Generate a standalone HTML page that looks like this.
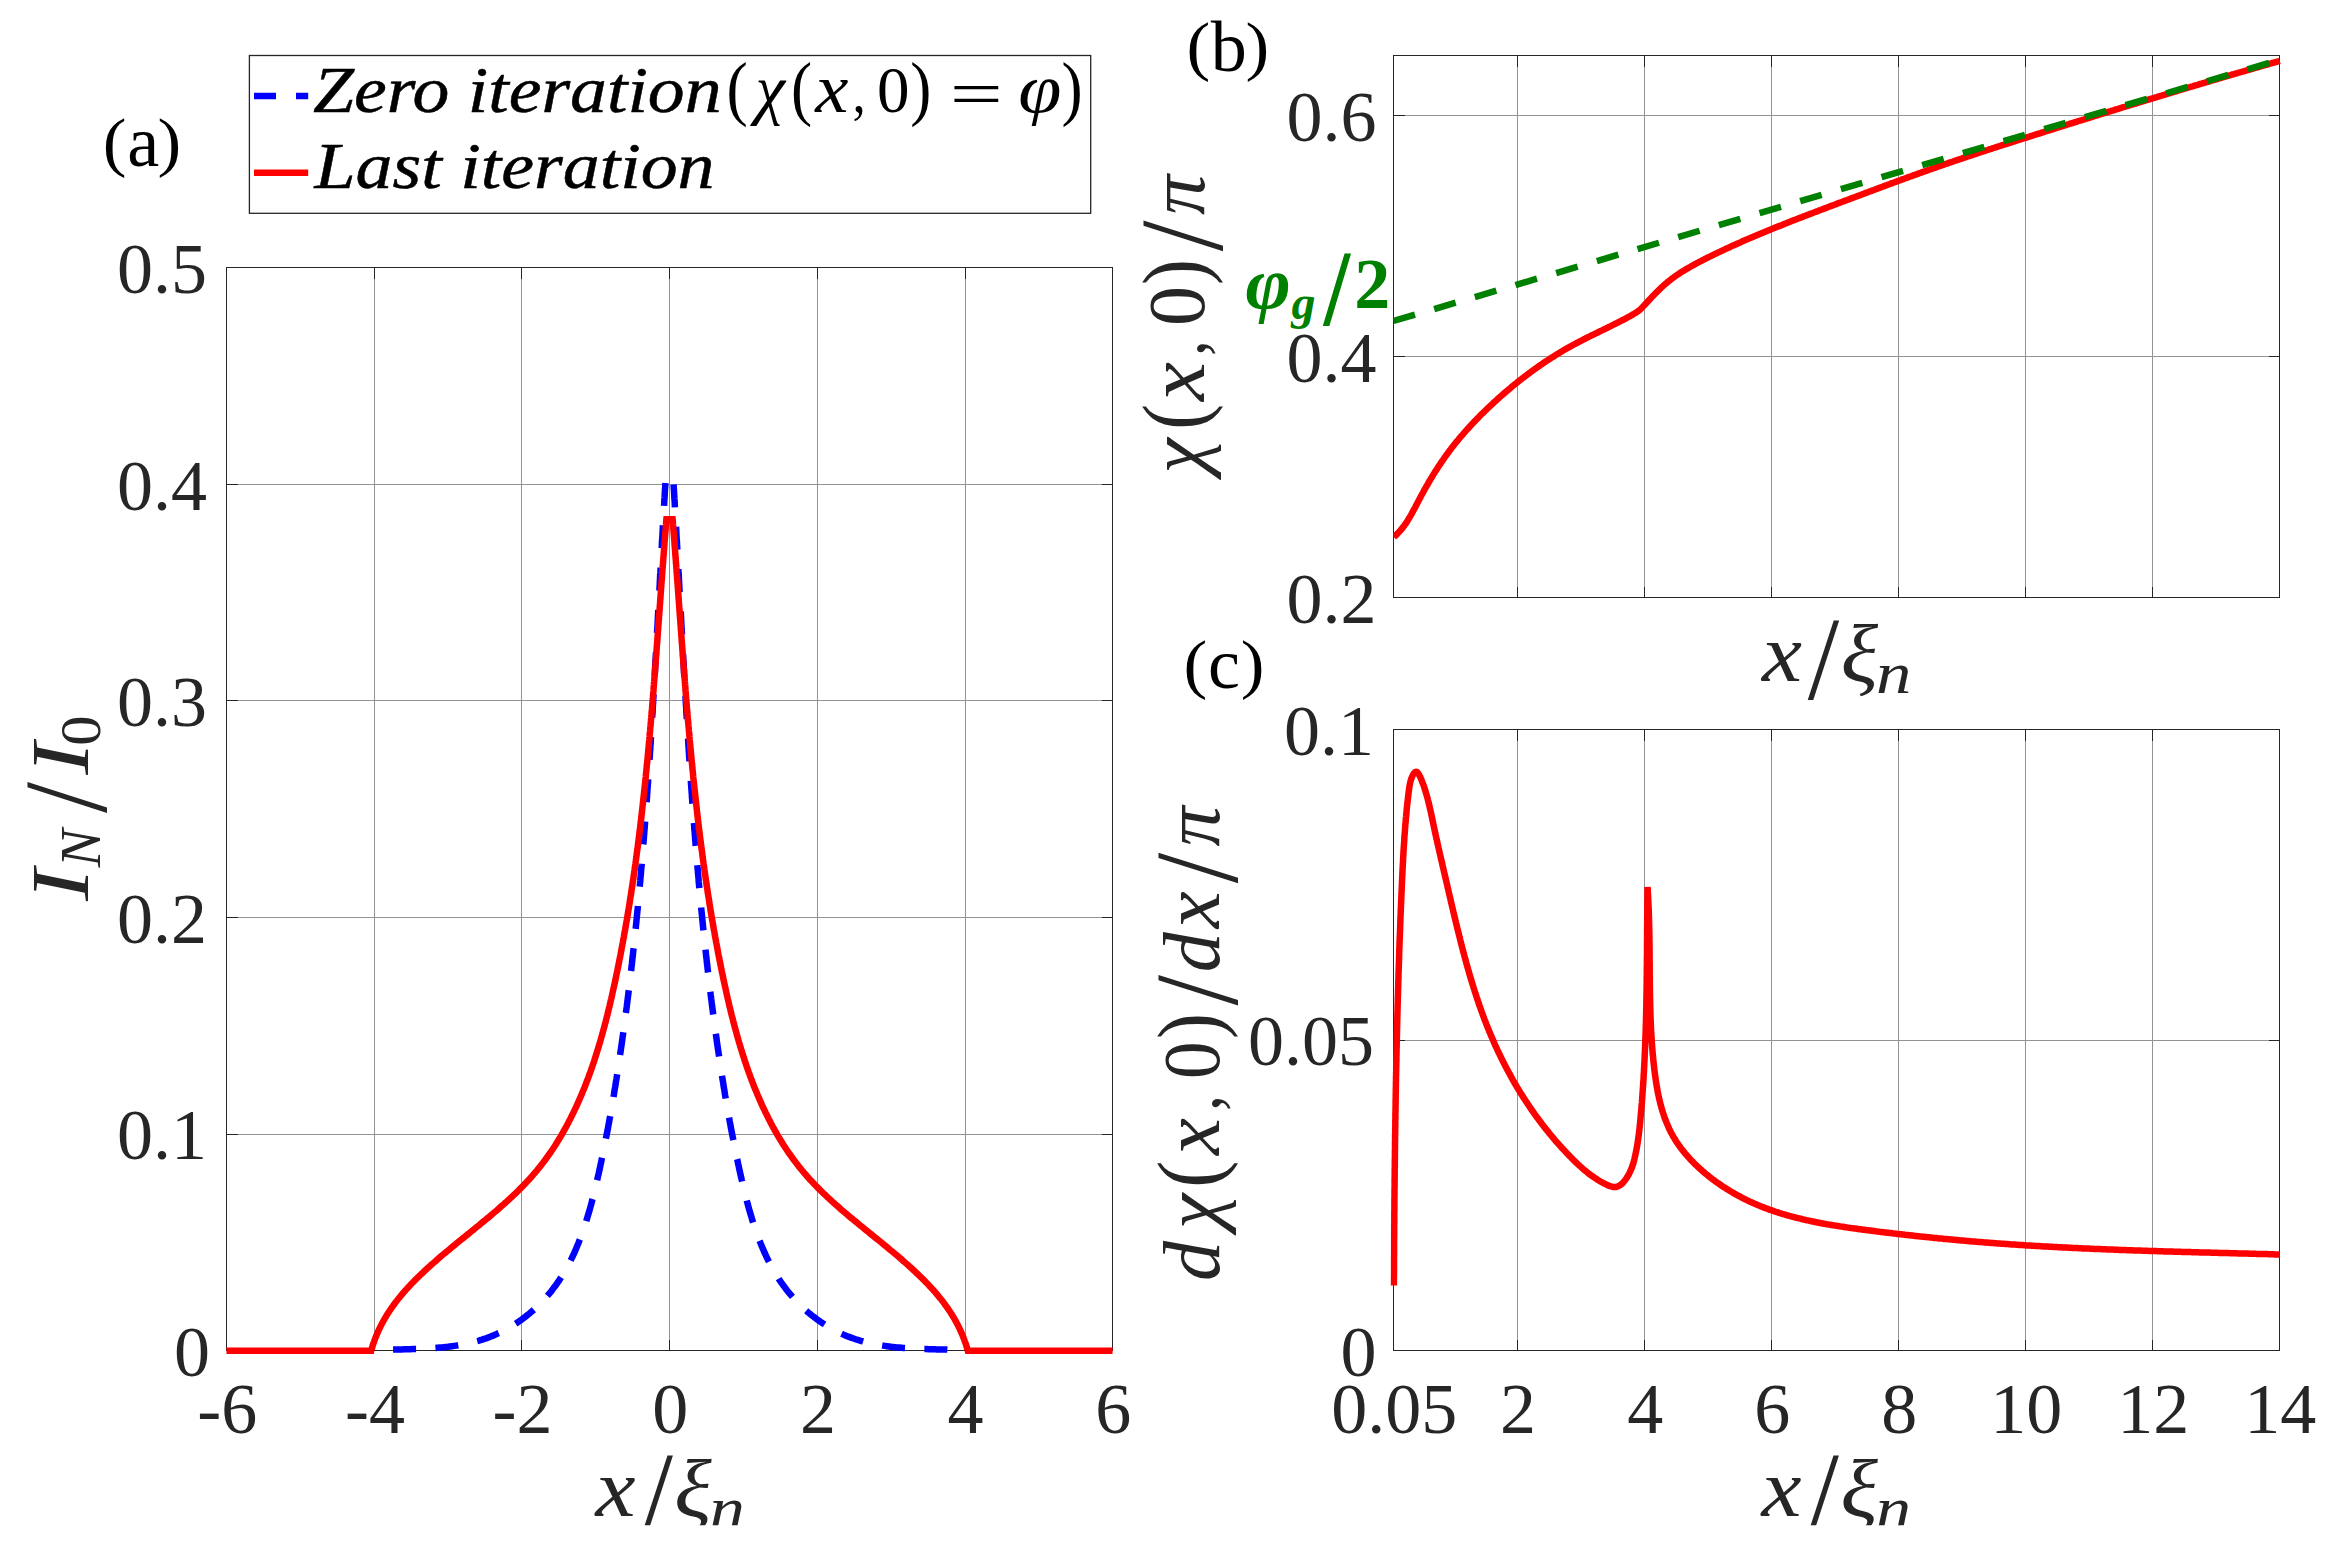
<!DOCTYPE html>
<html><head><meta charset="utf-8"><title>figure</title>
<style>
html,body{margin:0;padding:0;background:#fff;}
svg{display:block}
.g{stroke:#939393;stroke-width:1;fill:none;shape-rendering:crispEdges}
.bx{stroke:#262626;stroke-width:1;fill:none;shape-rendering:crispEdges}
.tk{stroke:#262626;stroke-width:1;fill:none;shape-rendering:crispEdges}
.c{fill:none;stroke-width:6.5;stroke-linejoin:miter;stroke-linecap:butt}
text{font-family:"Liberation Serif","DejaVu Serif",serif;}
.tl{font-size:72px;fill:#262626}
.pl{font-size:70px;fill:#000}
.lb{font-size:79px;fill:#262626;font-style:italic}
.lg{font-size:66px;fill:#000;font-style:italic;stroke:#000;stroke-width:0.5px}
.mt{}
</style></head><body>
<svg width="2327" height="1554" viewBox="0 0 2327 1554">
<defs>
<clipPath id="ca"><rect x="223.3" y="267.5" width="892.4" height="1086.6"/></clipPath>
<clipPath id="cb"><rect x="1393.5" y="55.5" width="889.0" height="542.0"/></clipPath>
<clipPath id="cc"><rect x="1390.5" y="729.5" width="890.0" height="621.0"/></clipPath>
<clipPath id="cfig"><rect x="0" y="0" width="2327" height="1525.3"/></clipPath>
</defs>
<rect width="2327" height="1554" fill="#fff"/>

<g id="panel-a">
<line x1="374.5" y1="267.5" x2="374.5" y2="1350.5" class="g"/>
<line x1="521.5" y1="267.5" x2="521.5" y2="1350.5" class="g"/>
<line x1="669.5" y1="267.5" x2="669.5" y2="1350.5" class="g"/>
<line x1="817.5" y1="267.5" x2="817.5" y2="1350.5" class="g"/>
<line x1="965.5" y1="267.5" x2="965.5" y2="1350.5" class="g"/>
<line x1="226.5" y1="1134.5" x2="1112.5" y2="1134.5" class="g"/>
<line x1="226.5" y1="917.5" x2="1112.5" y2="917.5" class="g"/>
<line x1="226.5" y1="700.5" x2="1112.5" y2="700.5" class="g"/>
<line x1="226.5" y1="484.5" x2="1112.5" y2="484.5" class="g"/>
<rect x="226.5" y="267.5" width="886.0" height="1083.0" class="bx"/>
<path d="M374.5 1350.5v-11M374.5 267.5v11M521.5 1350.5v-11M521.5 267.5v11M669.5 1350.5v-11M669.5 267.5v11M817.5 1350.5v-11M817.5 267.5v11M965.5 1350.5v-11M965.5 267.5v11M226.5 1134.5h11M1112.5 1134.5h-11M226.5 917.5h11M1112.5 917.5h-11M226.5 700.5h11M1112.5 700.5h-11M226.5 484.5h11M1112.5 484.5h-11" class="tk"/>
<g>
<path class="c" stroke="#0000ff" stroke-dasharray="23 19.4" stroke-dashoffset="0" d="M665.4 483.0 L665.3 485.0 L665.2 487.1 L665.0 489.1 L664.9 491.1 L664.8 493.2 L664.7 495.2 L664.6 497.2 L664.4 499.3 L664.3 501.3 L664.2 503.3 L664.1 505.3 L664.0 507.4 L663.9 509.4 L663.7 511.4 L663.6 513.5 L663.5 515.5 L663.4 517.5 L663.3 519.6 L663.2 521.6 L663.1 523.7 L662.9 525.7 L662.8 527.7 L662.7 529.8 L662.6 531.8 L662.5 533.8 L662.4 535.9 L662.3 537.9 L662.1 539.9 L662.0 542.0 L661.9 544.0 L661.8 546.0 L661.7 548.1 L661.6 550.1 L661.5 552.2 L661.4 554.2 L661.2 556.2 L661.1 558.3 L661.0 560.3 L660.9 562.3 L660.8 564.4 L660.7 566.4 L660.6 568.5 L660.5 570.5 L660.4 572.5 L660.2 574.6 L660.1 576.6 L660.0 578.7 L659.9 580.7 L659.8 582.7 L659.7 584.8 L659.6 586.8 L659.5 588.9 L659.4 590.9 L659.2 592.9 L659.1 595.0 L659.0 597.0 L658.9 599.1 L658.8 601.1 L658.7 603.1 L658.6 605.2 L658.5 607.2 L658.4 609.3 L658.2 611.3 L658.1 613.3 L658.0 615.4 L657.9 617.4 L657.8 619.5 L657.7 621.5 L657.6 623.5 L657.5 625.6 L657.4 627.6 L657.2 629.7 L657.1 631.7 L657.0 633.8 L656.9 635.8 L656.8 637.8 L656.7 639.9 L656.6 641.9 L656.5 644.0 L656.3 646.0 L656.2 648.1 L656.1 650.1 L656.0 652.1 L655.9 654.2 L655.8 656.2 L655.7 658.3 L655.5 660.3 L655.4 662.4 L655.3 664.4 L655.2 666.4 L655.1 668.5 L655.0 670.5 L654.9 672.6 L654.7 674.6 L654.6 676.7 L654.5 678.7 L654.4 680.7 L654.3 682.8 L654.1 684.8 L654.0 686.9 L653.9 688.9 L653.8 691.0 L653.7 693.0 L653.6 695.0 L653.4 697.1 L653.3 699.1 L653.2 701.2 L653.1 703.2 L652.9 705.3 L652.8 707.3 L652.7 709.4 L652.6 711.4 L652.5 713.4 L652.3 715.5 L652.2 717.5 L652.1 719.6 L652.0 721.6 L651.8 723.7 L651.7 725.7 L651.6 727.7 L651.5 729.8 L651.3 731.8 L651.2 733.9 L651.1 735.9 L650.9 738.0 L650.8 740.0 L650.7 742.0 L650.6 744.1 L650.4 746.1 L650.3 748.2 L650.2 750.2 L650.0 752.3 L649.9 754.3 L649.8 756.3 L649.6 758.4 L649.5 760.4 L649.4 762.5 L649.2 764.5 L649.1 766.6 L648.9 768.6 L648.8 770.6 L648.7 772.7 L648.5 774.7 L648.4 776.8 L648.2 778.8 L648.1 780.8 L648.0 782.9 L647.8 784.9 L647.7 787.0 L647.5 789.0 L647.4 791.1 L647.2 793.1 L647.1 795.1 L647.0 797.2 L646.8 799.2 L646.7 801.3 L646.5 803.3 L646.4 805.3 L646.2 807.4 L646.1 809.4 L645.9 811.5 L645.8 813.5 L645.6 815.5 L645.4 817.6 L645.3 819.6 L645.1 821.7 L645.0 823.7 L644.8 825.7 L644.7 827.8 L644.5 829.8 L644.3 831.9 L644.2 833.9 L644.0 835.9 L643.9 838.0 L643.7 840.0 L643.5 842.0 L643.4 844.1 L643.2 846.1 L643.0 848.2 L642.9 850.2 L642.7 852.2 L642.5 854.3 L642.4 856.3 L642.2 858.3 L642.0 860.4 L641.8 862.4 L641.7 864.5 L641.5 866.5 L641.3 868.5 L641.1 870.6 L641.0 872.6 L640.8 874.6 L640.6 876.7 L640.4 878.7 L640.3 880.7 L640.1 882.8 L639.9 884.8 L639.7 886.8 L639.5 888.9 L639.3 890.9 L639.1 892.9 L639.0 895.0 L638.8 897.0 L638.6 899.0 L638.4 901.1 L638.2 903.1 L638.0 905.1 L637.8 907.2 L637.6 909.2 L637.4 911.2 L637.2 913.3 L637.0 915.3 L636.8 917.3 L636.6 919.3 L636.4 921.4 L636.2 923.4 L636.0 925.4 L635.8 927.5 L635.6 929.5 L635.4 931.5 L635.2 933.5 L634.9 935.6 L634.7 937.6 L634.5 939.6 L634.3 941.7 L634.1 943.7 L633.9 945.7 L633.7 947.7 L633.4 949.8 L633.2 951.8 L633.0 953.8 L632.8 955.8 L632.5 957.9 L632.3 959.9 L632.1 961.9 L631.9 963.9 L631.6 966.0 L631.4 968.0 L631.2 970.0 L630.9 972.0 L630.7 974.1 L630.5 976.1 L630.2 978.1 L630.0 980.1 L629.7 982.1 L629.5 984.2 L629.3 986.2 L629.0 988.2 L628.8 990.2 L628.5 992.2 L628.3 994.3 L628.0 996.3 L627.8 998.3 L627.5 1000.3 L627.3 1002.3 L627.0 1004.4 L626.8 1006.4 L626.5 1008.4 L626.2 1010.4 L626.0 1012.4 L625.7 1014.4 L625.4 1016.4 L625.2 1018.5 L624.9 1020.5 L624.6 1022.5 L624.4 1024.5 L624.1 1026.5 L623.8 1028.5 L623.6 1030.5 L623.3 1032.6 L623.0 1034.6 L622.7 1036.6 L622.4 1038.6 L622.2 1040.6 L621.9 1042.6 L621.6 1044.6 L621.3 1046.6 L621.0 1048.6 L620.7 1050.7 L620.4 1052.7 L620.1 1054.7 L619.8 1056.7 L619.5 1058.7 L619.2 1060.7 L618.9 1062.7 L618.6 1064.7 L618.3 1066.7 L618.0 1068.7 L617.7 1070.7 L617.4 1072.7 L617.1 1074.7 L616.8 1076.7 L616.5 1078.8 L616.1 1080.8 L615.8 1082.8 L615.5 1084.8 L615.2 1086.8 L614.8 1088.8 L614.5 1090.8 L614.2 1092.8 L613.9 1094.8 L613.5 1096.8 L613.2 1098.8 L612.8 1100.8 L612.5 1102.8 L612.1 1104.9 L611.8 1106.9 L611.4 1108.9 L611.1 1110.9 L610.7 1112.9 L610.4 1114.9 L610.0 1116.9 L609.6 1118.9 L609.3 1120.9 L608.9 1123.0 L608.5 1125.0 L608.2 1127.0 L607.8 1129.0 L607.4 1131.0 L607.0 1133.0 L606.6 1135.0 L606.2 1137.1 L605.8 1139.1 L605.4 1141.1 L605.0 1143.1 L604.6 1145.1 L604.2 1147.2 L603.8 1149.2 L603.4 1151.2 L603.0 1153.2 L602.6 1155.3 L602.2 1157.3 L601.7 1159.3 L601.3 1161.3 L600.9 1163.4 L600.4 1165.4 L600.0 1167.4 L599.6 1169.5 L599.1 1171.5 L598.7 1173.5 L598.2 1175.6 L597.7 1177.6 L597.3 1179.6 L596.8 1181.7 L596.3 1183.7 L595.9 1185.7 L595.4 1187.8 L594.9 1189.8 L594.4 1191.8 L593.9 1193.9 L593.4 1195.9 L592.9 1197.9 L592.3 1199.9 L591.8 1202.0 L591.3 1204.0 L590.7 1206.0 L590.2 1208.0 L589.6 1210.0 L589.0 1212.0 L588.4 1214.0 L587.8 1216.0 L587.2 1218.0 L586.6 1220.0 L586.0 1221.9 L585.4 1223.9 L584.7 1225.9 L584.1 1227.8 L583.4 1229.8 L582.7 1231.7 L582.0 1233.7 L581.3 1235.6 L580.6 1237.5 L579.9 1239.4 L579.1 1241.3 L578.4 1243.2 L577.6 1245.1 L576.8 1247.0 L576.0 1248.9 L575.2 1250.8 L574.4 1252.6 L573.5 1254.5 L572.7 1256.3 L571.8 1258.1 L570.9 1259.9 L570.0 1261.7 L569.1 1263.5 L568.1 1265.3 L567.2 1267.1 L566.2 1268.8 L565.2 1270.6 L564.2 1272.3 L563.2 1274.0 L562.1 1275.8 L561.0 1277.4 L560.0 1279.1 L558.9 1280.8 L557.7 1282.4 L556.6 1284.1 L555.4 1285.7 L554.2 1287.3 L553.0 1288.9 L551.8 1290.5 L550.6 1292.1 L549.3 1293.6 L548.0 1295.1 L546.7 1296.6 L545.4 1298.1 L544.0 1299.6 L542.7 1301.1 L541.3 1302.5 L539.9 1304.0 L538.5 1305.4 L537.0 1306.8 L535.6 1308.1 L534.1 1309.5 L532.6 1310.8 L531.1 1312.1 L529.5 1313.4 L528.0 1314.7 L526.4 1315.9 L524.8 1317.2 L523.2 1318.4 L521.6 1319.6 L520.0 1320.7 L518.3 1321.9 L516.7 1323.0 L515.0 1324.1 L513.3 1325.2 L511.6 1326.2 L509.9 1327.2 L508.1 1328.2 L506.3 1329.2 L504.6 1330.2 L502.8 1331.1 L501.0 1332.0 L499.2 1332.9 L497.3 1333.7 L495.5 1334.6 L493.6 1335.4 L491.8 1336.1 L489.9 1336.9 L488.0 1337.6 L486.1 1338.3 L484.1 1338.9 L482.2 1339.6 L480.3 1340.2 L478.3 1340.8 L476.3 1341.3 L474.4 1341.9 L472.4 1342.4 L470.4 1342.8 L468.4 1343.3 L466.3 1343.7 L464.3 1344.2 L462.3 1344.6 L460.2 1344.9 L458.2 1345.3 L456.2 1345.6 L454.1 1345.9 L452.0 1346.2 L450.0 1346.5 L447.9 1346.8 L445.8 1347.0 L443.7 1347.2 L441.7 1347.4 L439.6 1347.6 L437.5 1347.8 L435.4 1348.0 L433.3 1348.1 L431.2 1348.3 L429.1 1348.4 L427.0 1348.5 L424.9 1348.6 L422.8 1348.7 L420.7 1348.8 L418.6 1348.9 L416.6 1349.0 L414.5 1349.0 L412.4 1349.1 L410.3 1349.2 L408.2 1349.2 L406.2 1349.3 L404.1 1349.3 L402.0 1349.4 L400.0 1349.4 L397.9 1349.5 L395.9 1349.5 L393.8 1349.6 L391.8 1349.6 L389.8 1349.7 L387.8 1349.7 L385.8 1349.8 L383.8 1349.9 L381.8 1350.0 L379.8 1350.1 L377.8 1350.2 L375.9 1350.3 L373.9 1350.4 L372.0 1350.5"/>
<path class="c" stroke="#0000ff" stroke-dasharray="23 19.4" stroke-dashoffset="0" d="M673.6 484.5 L673.7 486.5 L673.8 488.6 L674.0 490.6 L674.1 492.6 L674.2 494.6 L674.3 496.7 L674.4 498.7 L674.6 500.7 L674.7 502.8 L674.8 504.8 L674.9 506.8 L675.0 508.8 L675.1 510.9 L675.3 512.9 L675.4 514.9 L675.5 517.0 L675.6 519.0 L675.7 521.0 L675.8 523.0 L675.9 525.1 L676.1 527.1 L676.2 529.1 L676.3 531.2 L676.4 533.2 L676.5 535.2 L676.6 537.3 L676.7 539.3 L676.9 541.3 L677.0 543.4 L677.1 545.4 L677.2 547.4 L677.3 549.5 L677.4 551.5 L677.5 553.5 L677.6 555.6 L677.8 557.6 L677.9 559.6 L678.0 561.7 L678.1 563.7 L678.2 565.7 L678.3 567.8 L678.4 569.8 L678.5 571.8 L678.6 573.9 L678.8 575.9 L678.9 578.0 L679.0 580.0 L679.1 582.0 L679.2 584.1 L679.3 586.1 L679.4 588.1 L679.5 590.2 L679.6 592.2 L679.8 594.2 L679.9 596.3 L680.0 598.3 L680.1 600.4 L680.2 602.4 L680.3 604.4 L680.4 606.5 L680.5 608.5 L680.6 610.5 L680.8 612.6 L680.9 614.6 L681.0 616.7 L681.1 618.7 L681.2 620.7 L681.3 622.8 L681.4 624.8 L681.5 626.8 L681.6 628.9 L681.8 630.9 L681.9 633.0 L682.0 635.0 L682.1 637.0 L682.2 639.1 L682.3 641.1 L682.4 643.2 L682.5 645.2 L682.7 647.2 L682.8 649.3 L682.9 651.3 L683.0 653.3 L683.1 655.4 L683.2 657.4 L683.3 659.5 L683.5 661.5 L683.6 663.5 L683.7 665.6 L683.8 667.6 L683.9 669.7 L684.0 671.7 L684.1 673.7 L684.3 675.8 L684.4 677.8 L684.5 679.9 L684.6 681.9 L684.7 683.9 L684.9 686.0 L685.0 688.0 L685.1 690.1 L685.2 692.1 L685.3 694.1 L685.4 696.2 L685.6 698.2 L685.7 700.3 L685.8 702.3 L685.9 704.3 L686.1 706.4 L686.2 708.4 L686.3 710.5 L686.4 712.5 L686.5 714.5 L686.7 716.6 L686.8 718.6 L686.9 720.7 L687.0 722.7 L687.2 724.7 L687.3 726.8 L687.4 728.8 L687.5 730.9 L687.7 732.9 L687.8 734.9 L687.9 737.0 L688.1 739.0 L688.2 741.1 L688.3 743.1 L688.4 745.1 L688.6 747.2 L688.7 749.2 L688.8 751.3 L689.0 753.3 L689.1 755.3 L689.2 757.4 L689.4 759.4 L689.5 761.4 L689.6 763.5 L689.8 765.5 L689.9 767.6 L690.1 769.6 L690.2 771.6 L690.3 773.7 L690.5 775.7 L690.6 777.8 L690.8 779.8 L690.9 781.8 L691.0 783.9 L691.2 785.9 L691.3 787.9 L691.5 790.0 L691.6 792.0 L691.8 794.1 L691.9 796.1 L692.0 798.1 L692.2 800.2 L692.3 802.2 L692.5 804.2 L692.6 806.3 L692.8 808.3 L692.9 810.4 L693.1 812.4 L693.2 814.4 L693.4 816.5 L693.6 818.5 L693.7 820.5 L693.9 822.6 L694.0 824.6 L694.2 826.6 L694.3 828.7 L694.5 830.7 L694.7 832.7 L694.8 834.8 L695.0 836.8 L695.1 838.9 L695.3 840.9 L695.5 842.9 L695.6 845.0 L695.8 847.0 L696.0 849.0 L696.1 851.1 L696.3 853.1 L696.5 855.1 L696.6 857.2 L696.8 859.2 L697.0 861.2 L697.2 863.3 L697.3 865.3 L697.5 867.3 L697.7 869.4 L697.9 871.4 L698.0 873.4 L698.2 875.4 L698.4 877.5 L698.6 879.5 L698.7 881.5 L698.9 883.6 L699.1 885.6 L699.3 887.6 L699.5 889.7 L699.7 891.7 L699.9 893.7 L700.0 895.8 L700.2 897.8 L700.4 899.8 L700.6 901.8 L700.8 903.9 L701.0 905.9 L701.2 907.9 L701.4 910.0 L701.6 912.0 L701.8 914.0 L702.0 916.0 L702.2 918.1 L702.4 920.1 L702.6 922.1 L702.8 924.1 L703.0 926.2 L703.2 928.2 L703.4 930.2 L703.6 932.2 L703.8 934.3 L704.1 936.3 L704.3 938.3 L704.5 940.3 L704.7 942.4 L704.9 944.4 L705.1 946.4 L705.3 948.4 L705.6 950.5 L705.8 952.5 L706.0 954.5 L706.2 956.5 L706.5 958.5 L706.7 960.6 L706.9 962.6 L707.1 964.6 L707.4 966.6 L707.6 968.6 L707.8 970.7 L708.1 972.7 L708.3 974.7 L708.5 976.7 L708.8 978.7 L709.0 980.8 L709.3 982.8 L709.5 984.8 L709.7 986.8 L710.0 988.8 L710.2 990.8 L710.5 992.9 L710.7 994.9 L711.0 996.9 L711.2 998.9 L711.5 1000.9 L711.7 1002.9 L712.0 1004.9 L712.2 1007.0 L712.5 1009.0 L712.8 1011.0 L713.0 1013.0 L713.3 1015.0 L713.6 1017.0 L713.8 1019.0 L714.1 1021.0 L714.4 1023.1 L714.6 1025.1 L714.9 1027.1 L715.2 1029.1 L715.4 1031.1 L715.7 1033.1 L716.0 1035.1 L716.3 1037.1 L716.6 1039.1 L716.8 1041.1 L717.1 1043.1 L717.4 1045.2 L717.7 1047.2 L718.0 1049.2 L718.3 1051.2 L718.6 1053.2 L718.9 1055.2 L719.2 1057.2 L719.5 1059.2 L719.8 1061.2 L720.1 1063.2 L720.4 1065.2 L720.7 1067.2 L721.0 1069.2 L721.3 1071.2 L721.6 1073.2 L721.9 1075.2 L722.2 1077.2 L722.5 1079.2 L722.9 1081.2 L723.2 1083.2 L723.5 1085.2 L723.8 1087.2 L724.2 1089.2 L724.5 1091.2 L724.8 1093.2 L725.1 1095.3 L725.5 1097.3 L725.8 1099.3 L726.2 1101.3 L726.5 1103.3 L726.9 1105.3 L727.2 1107.3 L727.6 1109.3 L727.9 1111.3 L728.3 1113.3 L728.6 1115.3 L729.0 1117.3 L729.4 1119.3 L729.7 1121.3 L730.1 1123.3 L730.5 1125.4 L730.8 1127.4 L731.2 1129.4 L731.6 1131.4 L732.0 1133.4 L732.4 1135.4 L732.8 1137.4 L733.2 1139.4 L733.6 1141.5 L734.0 1143.5 L734.4 1145.5 L734.8 1147.5 L735.2 1149.5 L735.6 1151.5 L736.0 1153.6 L736.4 1155.6 L736.8 1157.6 L737.3 1159.6 L737.7 1161.7 L738.1 1163.7 L738.6 1165.7 L739.0 1167.7 L739.4 1169.8 L739.9 1171.8 L740.3 1173.8 L740.8 1175.9 L741.3 1177.9 L741.7 1179.9 L742.2 1182.0 L742.7 1184.0 L743.1 1186.0 L743.6 1188.0 L744.1 1190.1 L744.6 1192.1 L745.1 1194.1 L745.6 1196.2 L746.1 1198.2 L746.7 1200.2 L747.2 1202.2 L747.7 1204.2 L748.3 1206.2 L748.8 1208.2 L749.4 1210.2 L750.0 1212.2 L750.6 1214.2 L751.2 1216.2 L751.8 1218.2 L752.4 1220.2 L753.0 1222.2 L753.6 1224.1 L754.3 1226.1 L754.9 1228.0 L755.6 1230.0 L756.3 1231.9 L757.0 1233.9 L757.7 1235.8 L758.4 1237.7 L759.1 1239.6 L759.9 1241.5 L760.6 1243.4 L761.4 1245.3 L762.2 1247.2 L763.0 1249.1 L763.8 1250.9 L764.6 1252.8 L765.5 1254.6 L766.3 1256.5 L767.2 1258.3 L768.1 1260.1 L769.0 1261.9 L769.9 1263.7 L770.9 1265.5 L771.8 1267.2 L772.8 1269.0 L773.8 1270.7 L774.8 1272.5 L775.8 1274.2 L776.9 1275.9 L778.0 1277.6 L779.0 1279.3 L780.1 1280.9 L781.3 1282.6 L782.4 1284.2 L783.6 1285.8 L784.8 1287.4 L786.0 1289.0 L787.2 1290.6 L788.4 1292.2 L789.7 1293.7 L791.0 1295.2 L792.3 1296.7 L793.6 1298.2 L795.0 1299.7 L796.3 1301.2 L797.7 1302.6 L799.1 1304.0 L800.5 1305.5 L802.0 1306.8 L803.4 1308.2 L804.9 1309.6 L806.4 1310.9 L807.9 1312.2 L809.5 1313.5 L811.0 1314.8 L812.6 1316.0 L814.2 1317.2 L815.8 1318.4 L817.4 1319.6 L819.0 1320.8 L820.7 1321.9 L822.3 1323.0 L824.0 1324.1 L825.7 1325.2 L827.4 1326.3 L829.1 1327.3 L830.9 1328.3 L832.7 1329.3 L834.4 1330.2 L836.2 1331.1 L838.0 1332.0 L839.8 1332.9 L841.7 1333.8 L843.5 1334.6 L845.4 1335.4 L847.2 1336.2 L849.1 1336.9 L851.0 1337.6 L852.9 1338.3 L854.9 1339.0 L856.8 1339.6 L858.7 1340.2 L860.7 1340.8 L862.7 1341.3 L864.6 1341.9 L866.6 1342.4 L868.6 1342.9 L870.6 1343.3 L872.7 1343.8 L874.7 1344.2 L876.7 1344.6 L878.8 1344.9 L880.8 1345.3 L882.8 1345.6 L884.9 1345.9 L887.0 1346.2 L889.0 1346.5 L891.1 1346.8 L893.2 1347.0 L895.3 1347.2 L897.3 1347.4 L899.4 1347.6 L901.5 1347.8 L903.6 1348.0 L905.7 1348.1 L907.8 1348.3 L909.9 1348.4 L912.0 1348.5 L914.1 1348.6 L916.2 1348.7 L918.3 1348.8 L920.4 1348.9 L922.4 1349.0 L924.5 1349.0 L926.6 1349.1 L928.7 1349.2 L930.8 1349.2 L932.8 1349.3 L934.9 1349.3 L937.0 1349.4 L939.0 1349.4 L941.1 1349.5 L943.1 1349.5 L945.2 1349.6 L947.2 1349.6 L949.2 1349.7 L951.2 1349.7 L953.2 1349.8 L955.2 1349.9 L957.2 1350.0 L959.2 1350.1 L961.2 1350.2 L963.1 1350.3 L965.1 1350.4 L967.0 1350.5"/>
<path class="c" stroke="#ff0000" d="M226.5 1350.8 L371.2 1350.8 L371.7 1348.9 L372.3 1347.1 L372.8 1345.2 L373.4 1343.4 L374.1 1341.6 L374.7 1339.8 L375.4 1338.1 L376.1 1336.3 L376.8 1334.6 L377.5 1332.9 L378.3 1331.2 L379.0 1329.5 L379.8 1327.8 L380.6 1326.2 L381.5 1324.6 L382.3 1322.9 L383.2 1321.3 L384.1 1319.7 L385.0 1318.2 L385.9 1316.6 L386.9 1315.0 L387.8 1313.5 L388.8 1312.0 L389.8 1310.5 L390.8 1309.0 L391.9 1307.5 L392.9 1306.0 L394.0 1304.5 L395.0 1303.1 L396.1 1301.6 L397.2 1300.2 L398.4 1298.8 L399.5 1297.4 L400.6 1296.0 L401.8 1294.6 L403.0 1293.2 L404.1 1291.8 L405.3 1290.5 L406.6 1289.1 L407.8 1287.8 L409.0 1286.5 L410.2 1285.1 L411.5 1283.8 L412.8 1282.5 L414.0 1281.2 L415.3 1279.9 L416.6 1278.6 L417.9 1277.3 L419.2 1276.1 L420.5 1274.8 L421.9 1273.5 L423.2 1272.3 L424.5 1271.0 L425.9 1269.8 L427.2 1268.5 L428.6 1267.3 L429.9 1266.1 L431.3 1264.8 L432.7 1263.6 L434.1 1262.4 L435.5 1261.2 L436.8 1260.0 L438.2 1258.7 L439.6 1257.5 L441.0 1256.3 L442.5 1255.1 L443.9 1253.9 L445.3 1252.7 L446.7 1251.6 L448.1 1250.4 L449.6 1249.2 L451.0 1248.0 L452.4 1246.8 L453.9 1245.6 L455.3 1244.5 L456.7 1243.3 L458.2 1242.1 L459.6 1240.9 L461.1 1239.8 L462.5 1238.6 L464.0 1237.4 L465.4 1236.2 L466.8 1235.1 L468.3 1233.9 L469.7 1232.7 L471.2 1231.5 L472.6 1230.4 L474.1 1229.2 L475.5 1228.0 L477.0 1226.8 L478.4 1225.7 L479.9 1224.5 L481.3 1223.3 L482.7 1222.1 L484.2 1220.9 L485.6 1219.8 L487.0 1218.6 L488.5 1217.4 L489.9 1216.2 L491.3 1215.0 L492.7 1213.8 L494.1 1212.6 L495.5 1211.4 L497.0 1210.2 L498.4 1209.0 L499.7 1207.7 L501.1 1206.5 L502.5 1205.3 L503.9 1204.1 L505.3 1202.8 L506.7 1201.6 L508.0 1200.4 L509.4 1199.1 L510.7 1197.9 L512.1 1196.6 L513.4 1195.3 L514.7 1194.1 L516.1 1192.8 L517.4 1191.5 L518.7 1190.2 L520.0 1188.9 L521.3 1187.6 L522.6 1186.3 L523.9 1185.0 L525.1 1183.7 L526.4 1182.4 L527.6 1181.0 L528.9 1179.7 L530.1 1178.3 L531.3 1177.0 L532.5 1175.6 L533.7 1174.2 L534.9 1172.8 L536.1 1171.4 L537.3 1170.0 L538.4 1168.6 L539.6 1167.2 L540.7 1165.8 L541.8 1164.3 L542.9 1162.9 L544.0 1161.4 L545.1 1160.0 L546.2 1158.5 L547.3 1157.0 L548.3 1155.5 L549.4 1154.1 L550.4 1152.6 L551.5 1151.0 L552.5 1149.5 L553.5 1148.0 L554.5 1146.5 L555.5 1144.9 L556.5 1143.4 L557.4 1141.8 L558.4 1140.3 L559.3 1138.7 L560.3 1137.1 L561.2 1135.6 L562.1 1134.0 L563.0 1132.4 L563.9 1130.8 L564.8 1129.2 L565.7 1127.6 L566.6 1126.0 L567.4 1124.4 L568.3 1122.7 L569.1 1121.1 L570.0 1119.5 L570.8 1117.9 L571.6 1116.2 L572.4 1114.6 L573.3 1112.9 L574.0 1111.3 L574.8 1109.6 L575.6 1108.0 L576.4 1106.3 L577.2 1104.6 L577.9 1102.9 L578.7 1101.3 L579.4 1099.6 L580.1 1097.9 L580.9 1096.2 L581.6 1094.5 L582.3 1092.8 L583.0 1091.1 L583.7 1089.4 L584.4 1087.7 L585.1 1086.0 L585.7 1084.3 L586.4 1082.6 L587.1 1080.8 L587.7 1079.1 L588.4 1077.4 L589.0 1075.7 L589.6 1073.9 L590.3 1072.2 L590.9 1070.5 L591.5 1068.7 L592.1 1067.0 L592.7 1065.2 L593.3 1063.5 L593.9 1061.7 L594.5 1060.0 L595.0 1058.2 L595.6 1056.4 L596.2 1054.7 L596.7 1052.9 L597.3 1051.1 L597.8 1049.4 L598.4 1047.6 L598.9 1045.8 L599.4 1044.0 L600.0 1042.3 L600.5 1040.5 L601.0 1038.7 L601.5 1036.9 L602.0 1035.1 L602.5 1033.3 L603.0 1031.5 L603.5 1029.7 L604.0 1027.9 L604.5 1026.2 L604.9 1024.4 L605.4 1022.6 L605.9 1020.8 L606.3 1018.9 L606.8 1017.1 L607.3 1015.3 L607.7 1013.5 L608.2 1011.7 L608.6 1009.9 L609.0 1008.1 L609.5 1006.3 L609.9 1004.5 L610.3 1002.7 L610.7 1000.8 L611.2 999.0 L611.6 997.2 L612.0 995.4 L612.4 993.6 L612.8 991.8 L613.2 989.9 L613.6 988.1 L614.0 986.3 L614.4 984.5 L614.8 982.7 L615.2 980.8 L615.6 979.0 L616.0 977.2 L616.3 975.4 L616.7 973.6 L617.1 971.7 L617.5 969.9 L617.8 968.1 L618.2 966.3 L618.6 964.5 L618.9 962.6 L619.3 960.8 L619.6 959.0 L620.0 957.2 L620.4 955.3 L620.7 953.5 L621.1 951.7 L621.4 949.9 L621.7 948.1 L622.1 946.2 L622.4 944.4 L622.8 942.6 L623.1 940.8 L623.4 938.9 L623.8 937.1 L624.1 935.3 L624.4 933.5 L624.7 931.7 L625.1 929.8 L625.4 928.0 L625.7 926.2 L626.0 924.4 L626.3 922.5 L626.7 920.7 L627.0 918.9 L627.3 917.1 L627.6 915.2 L627.9 913.4 L628.2 911.6 L628.5 909.8 L628.8 908.0 L629.1 906.1 L629.4 904.3 L629.7 902.5 L629.9 900.7 L630.2 898.8 L630.5 897.0 L630.8 895.2 L631.1 893.4 L631.4 891.5 L631.6 889.7 L631.9 887.9 L632.2 886.1 L632.5 884.3 L632.7 882.4 L633.0 880.6 L633.3 878.8 L633.5 877.0 L633.8 875.1 L634.1 873.3 L634.3 871.5 L634.6 869.7 L634.8 867.8 L635.1 866.0 L635.4 864.2 L635.6 862.4 L635.9 860.5 L636.1 858.7 L636.4 856.9 L636.6 855.1 L636.8 853.2 L637.1 851.4 L637.3 849.6 L637.6 847.8 L637.8 845.9 L638.0 844.1 L638.3 842.3 L638.5 840.5 L638.7 838.6 L639.0 836.8 L639.2 835.0 L639.4 833.2 L639.6 831.3 L639.9 829.5 L640.1 827.7 L640.3 825.9 L640.5 824.0 L640.7 822.2 L641.0 820.4 L641.2 818.6 L641.4 816.7 L641.6 814.9 L641.8 813.1 L642.0 811.3 L642.2 809.4 L642.4 807.6 L642.6 805.8 L642.8 804.0 L643.0 802.1 L643.2 800.3 L643.4 798.5 L643.6 796.6 L643.8 794.8 L644.0 793.0 L644.2 791.2 L644.4 789.3 L644.6 787.5 L644.8 785.7 L645.0 783.9 L645.2 782.0 L645.4 780.2 L645.6 778.4 L645.8 776.5 L645.9 774.7 L646.1 772.9 L646.3 771.1 L646.5 769.2 L646.7 767.4 L646.8 765.6 L647.0 763.7 L647.2 761.9 L647.4 760.1 L647.6 758.3 L647.7 756.4 L647.9 754.6 L648.1 752.8 L648.2 750.9 L648.4 749.1 L648.6 747.3 L648.8 745.4 L648.9 743.6 L649.1 741.8 L649.3 740.0 L649.4 738.1 L649.6 736.3 L649.7 734.5 L649.9 732.6 L650.1 730.8 L650.2 729.0 L650.4 727.1 L650.6 725.3 L650.7 723.5 L650.9 721.6 L651.0 719.8 L651.2 718.0 L651.3 716.2 L651.5 714.3 L651.6 712.5 L651.8 710.7 L652.0 708.8 L652.1 707.0 L652.3 705.2 L652.4 703.3 L652.6 701.5 L652.7 699.7 L652.9 697.8 L653.0 696.0 L653.2 694.2 L653.3 692.3 L653.5 690.5 L653.6 688.7 L653.7 686.8 L653.9 685.0 L654.0 683.2 L654.2 681.3 L654.3 679.5 L654.5 677.7 L654.6 675.8 L654.8 674.0 L654.9 672.2 L655.0 670.3 L655.2 668.5 L655.3 666.6 L655.5 664.8 L655.6 663.0 L655.7 661.1 L655.9 659.3 L656.0 657.5 L656.2 655.6 L656.3 653.8 L656.4 652.0 L656.6 650.1 L656.7 648.3 L656.8 646.5 L657.0 644.6 L657.1 642.8 L657.3 640.9 L657.4 639.1 L657.5 637.3 L657.7 635.4 L657.8 633.6 L657.9 631.8 L658.1 629.9 L658.2 628.1 L658.3 626.2 L658.5 624.4 L658.6 622.6 L658.7 620.7 L658.9 618.9 L659.0 617.0 L659.2 615.2 L659.3 613.4 L659.4 611.5 L659.6 609.7 L659.7 607.8 L659.8 606.0 L660.0 604.2 L660.1 602.3 L660.2 600.5 L660.4 598.6 L660.5 596.8 L660.6 595.0 L660.8 593.1 L660.9 591.3 L661.0 589.4 L661.2 587.6 L661.3 585.7 L661.4 583.9 L661.6 582.1 L661.7 580.2 L661.9 578.4 L662.0 576.5 L662.1 574.7 L662.3 572.8 L662.4 571.0 L662.5 569.2 L662.7 567.3 L662.8 565.5 L663.0 563.6 L663.1 561.8 L663.2 559.9 L663.4 558.1 L663.5 556.2 L663.7 554.4 L663.8 552.6 L663.9 550.7 L664.1 548.9 L664.2 547.0 L664.4 545.2 L664.5 543.3 L664.6 541.5 L664.8 539.6 L664.9 537.8 L665.1 535.9 L665.2 534.1 L665.4 532.2 L665.5 530.4 L665.7 528.5 L665.8 526.7 L666.0 524.8 L666.1 523.0 L666.2 521.1 L666.4 519.3 L672.6 519.3 L672.8 521.1 L672.9 523.0 L673.0 524.8 L673.2 526.7 L673.3 528.5 L673.5 530.4 L673.6 532.2 L673.8 534.1 L673.9 535.9 L674.1 537.8 L674.2 539.6 L674.4 541.5 L674.5 543.3 L674.6 545.2 L674.8 547.0 L674.9 548.9 L675.1 550.7 L675.2 552.6 L675.3 554.4 L675.5 556.2 L675.6 558.1 L675.8 559.9 L675.9 561.8 L676.0 563.6 L676.2 565.5 L676.3 567.3 L676.5 569.2 L676.6 571.0 L676.7 572.8 L676.9 574.7 L677.0 576.5 L677.1 578.4 L677.3 580.2 L677.4 582.1 L677.6 583.9 L677.7 585.7 L677.8 587.6 L678.0 589.4 L678.1 591.3 L678.2 593.1 L678.4 595.0 L678.5 596.8 L678.6 598.6 L678.8 600.5 L678.9 602.3 L679.0 604.2 L679.2 606.0 L679.3 607.8 L679.4 609.7 L679.6 611.5 L679.7 613.4 L679.8 615.2 L680.0 617.0 L680.1 618.9 L680.3 620.7 L680.4 622.6 L680.5 624.4 L680.7 626.2 L680.8 628.1 L680.9 629.9 L681.1 631.8 L681.2 633.6 L681.3 635.4 L681.5 637.3 L681.6 639.1 L681.7 640.9 L681.9 642.8 L682.0 644.6 L682.2 646.5 L682.3 648.3 L682.4 650.1 L682.6 652.0 L682.7 653.8 L682.8 655.6 L683.0 657.5 L683.1 659.3 L683.3 661.1 L683.4 663.0 L683.5 664.8 L683.7 666.6 L683.8 668.5 L684.0 670.3 L684.1 672.2 L684.2 674.0 L684.4 675.8 L684.5 677.7 L684.7 679.5 L684.8 681.3 L685.0 683.2 L685.1 685.0 L685.3 686.8 L685.4 688.7 L685.5 690.5 L685.7 692.3 L685.8 694.2 L686.0 696.0 L686.1 697.8 L686.3 699.7 L686.4 701.5 L686.6 703.3 L686.7 705.2 L686.9 707.0 L687.0 708.8 L687.2 710.7 L687.4 712.5 L687.5 714.3 L687.7 716.2 L687.8 718.0 L688.0 719.8 L688.1 721.6 L688.3 723.5 L688.4 725.3 L688.6 727.1 L688.8 729.0 L688.9 730.8 L689.1 732.6 L689.3 734.5 L689.4 736.3 L689.6 738.1 L689.7 740.0 L689.9 741.8 L690.1 743.6 L690.2 745.4 L690.4 747.3 L690.6 749.1 L690.8 750.9 L690.9 752.8 L691.1 754.6 L691.3 756.4 L691.4 758.3 L691.6 760.1 L691.8 761.9 L692.0 763.7 L692.2 765.6 L692.3 767.4 L692.5 769.2 L692.7 771.1 L692.9 772.9 L693.1 774.7 L693.2 776.5 L693.4 778.4 L693.6 780.2 L693.8 782.0 L694.0 783.9 L694.2 785.7 L694.4 787.5 L694.6 789.3 L694.8 791.2 L695.0 793.0 L695.2 794.8 L695.4 796.6 L695.6 798.5 L695.8 800.3 L696.0 802.1 L696.2 804.0 L696.4 805.8 L696.6 807.6 L696.8 809.4 L697.0 811.3 L697.2 813.1 L697.4 814.9 L697.6 816.7 L697.8 818.6 L698.0 820.4 L698.3 822.2 L698.5 824.0 L698.7 825.9 L698.9 827.7 L699.1 829.5 L699.4 831.3 L699.6 833.2 L699.8 835.0 L700.0 836.8 L700.3 838.6 L700.5 840.5 L700.7 842.3 L701.0 844.1 L701.2 845.9 L701.4 847.8 L701.7 849.6 L701.9 851.4 L702.2 853.2 L702.4 855.1 L702.6 856.9 L702.9 858.7 L703.1 860.5 L703.4 862.4 L703.6 864.2 L703.9 866.0 L704.2 867.8 L704.4 869.7 L704.7 871.5 L704.9 873.3 L705.2 875.1 L705.5 877.0 L705.7 878.8 L706.0 880.6 L706.3 882.4 L706.5 884.3 L706.8 886.1 L707.1 887.9 L707.4 889.7 L707.6 891.5 L707.9 893.4 L708.2 895.2 L708.5 897.0 L708.8 898.8 L709.1 900.7 L709.3 902.5 L709.6 904.3 L709.9 906.1 L710.2 908.0 L710.5 909.8 L710.8 911.6 L711.1 913.4 L711.4 915.2 L711.7 917.1 L712.0 918.9 L712.3 920.7 L712.7 922.5 L713.0 924.4 L713.3 926.2 L713.6 928.0 L713.9 929.8 L714.3 931.7 L714.6 933.5 L714.9 935.3 L715.2 937.1 L715.6 938.9 L715.9 940.8 L716.2 942.6 L716.6 944.4 L716.9 946.2 L717.3 948.1 L717.6 949.9 L717.9 951.7 L718.3 953.5 L718.6 955.3 L719.0 957.2 L719.4 959.0 L719.7 960.8 L720.1 962.6 L720.4 964.5 L720.8 966.3 L721.2 968.1 L721.5 969.9 L721.9 971.7 L722.3 973.6 L722.7 975.4 L723.0 977.2 L723.4 979.0 L723.8 980.8 L724.2 982.7 L724.6 984.5 L725.0 986.3 L725.4 988.1 L725.8 989.9 L726.2 991.8 L726.6 993.6 L727.0 995.4 L727.4 997.2 L727.8 999.0 L728.3 1000.8 L728.7 1002.7 L729.1 1004.5 L729.5 1006.3 L730.0 1008.1 L730.4 1009.9 L730.8 1011.7 L731.3 1013.5 L731.7 1015.3 L732.2 1017.1 L732.7 1018.9 L733.1 1020.8 L733.6 1022.6 L734.1 1024.4 L734.5 1026.2 L735.0 1027.9 L735.5 1029.7 L736.0 1031.5 L736.5 1033.3 L737.0 1035.1 L737.5 1036.9 L738.0 1038.7 L738.5 1040.5 L739.0 1042.3 L739.6 1044.0 L740.1 1045.8 L740.6 1047.6 L741.2 1049.4 L741.7 1051.1 L742.3 1052.9 L742.8 1054.7 L743.4 1056.4 L744.0 1058.2 L744.5 1060.0 L745.1 1061.7 L745.7 1063.5 L746.3 1065.2 L746.9 1067.0 L747.5 1068.7 L748.1 1070.5 L748.7 1072.2 L749.4 1073.9 L750.0 1075.7 L750.6 1077.4 L751.3 1079.1 L751.9 1080.8 L752.6 1082.6 L753.3 1084.3 L753.9 1086.0 L754.6 1087.7 L755.3 1089.4 L756.0 1091.1 L756.7 1092.8 L757.4 1094.5 L758.1 1096.2 L758.9 1097.9 L759.6 1099.6 L760.3 1101.3 L761.1 1102.9 L761.8 1104.6 L762.6 1106.3 L763.4 1108.0 L764.2 1109.6 L765.0 1111.3 L765.7 1112.9 L766.6 1114.6 L767.4 1116.2 L768.2 1117.9 L769.0 1119.5 L769.9 1121.1 L770.7 1122.7 L771.6 1124.4 L772.4 1126.0 L773.3 1127.6 L774.2 1129.2 L775.1 1130.8 L776.0 1132.4 L776.9 1134.0 L777.8 1135.6 L778.7 1137.1 L779.7 1138.7 L780.6 1140.3 L781.6 1141.8 L782.5 1143.4 L783.5 1144.9 L784.5 1146.5 L785.5 1148.0 L786.5 1149.5 L787.5 1151.0 L788.6 1152.6 L789.6 1154.1 L790.7 1155.5 L791.7 1157.0 L792.8 1158.5 L793.9 1160.0 L795.0 1161.4 L796.1 1162.9 L797.2 1164.3 L798.3 1165.8 L799.4 1167.2 L800.6 1168.6 L801.7 1170.0 L802.9 1171.4 L804.1 1172.8 L805.3 1174.2 L806.5 1175.6 L807.7 1177.0 L808.9 1178.3 L810.1 1179.7 L811.4 1181.0 L812.6 1182.4 L813.9 1183.7 L815.1 1185.0 L816.4 1186.3 L817.7 1187.6 L819.0 1188.9 L820.3 1190.2 L821.6 1191.5 L822.9 1192.8 L824.3 1194.1 L825.6 1195.3 L826.9 1196.6 L828.3 1197.9 L829.6 1199.1 L831.0 1200.4 L832.3 1201.6 L833.7 1202.8 L835.1 1204.1 L836.5 1205.3 L837.9 1206.5 L839.3 1207.7 L840.6 1209.0 L842.0 1210.2 L843.5 1211.4 L844.9 1212.6 L846.3 1213.8 L847.7 1215.0 L849.1 1216.2 L850.5 1217.4 L852.0 1218.6 L853.4 1219.8 L854.8 1220.9 L856.3 1222.1 L857.7 1223.3 L859.1 1224.5 L860.6 1225.7 L862.0 1226.8 L863.5 1228.0 L864.9 1229.2 L866.4 1230.4 L867.8 1231.5 L869.3 1232.7 L870.7 1233.9 L872.2 1235.1 L873.6 1236.2 L875.0 1237.4 L876.5 1238.6 L877.9 1239.8 L879.4 1240.9 L880.8 1242.1 L882.3 1243.3 L883.7 1244.5 L885.1 1245.6 L886.6 1246.8 L888.0 1248.0 L889.4 1249.2 L890.9 1250.4 L892.3 1251.6 L893.7 1252.7 L895.1 1253.9 L896.5 1255.1 L898.0 1256.3 L899.4 1257.5 L900.8 1258.7 L902.2 1260.0 L903.5 1261.2 L904.9 1262.4 L906.3 1263.6 L907.7 1264.8 L909.1 1266.1 L910.4 1267.3 L911.8 1268.5 L913.1 1269.8 L914.5 1271.0 L915.8 1272.3 L917.1 1273.5 L918.5 1274.8 L919.8 1276.1 L921.1 1277.3 L922.4 1278.6 L923.7 1279.9 L925.0 1281.2 L926.2 1282.5 L927.5 1283.8 L928.8 1285.1 L930.0 1286.5 L931.2 1287.8 L932.4 1289.1 L933.7 1290.5 L934.9 1291.8 L936.0 1293.2 L937.2 1294.6 L938.4 1296.0 L939.5 1297.4 L940.6 1298.8 L941.8 1300.2 L942.9 1301.6 L944.0 1303.1 L945.0 1304.5 L946.1 1306.0 L947.1 1307.5 L948.2 1309.0 L949.2 1310.5 L950.2 1312.0 L951.2 1313.5 L952.1 1315.0 L953.1 1316.6 L954.0 1318.2 L954.9 1319.7 L955.8 1321.3 L956.7 1322.9 L957.5 1324.6 L958.4 1326.2 L959.2 1327.8 L960.0 1329.5 L960.7 1331.2 L961.5 1332.9 L962.2 1334.6 L962.9 1336.3 L963.6 1338.1 L964.3 1339.8 L964.9 1341.6 L965.6 1343.4 L966.2 1345.2 L966.7 1347.1 L967.3 1348.9 L967.8 1350.8 L1112.5 1350.8"/>
</g>
<text class="tl" x="227.3" y="1432.8" text-anchor="middle">-6</text>
<text class="tl" x="375.0" y="1432.8" text-anchor="middle">-4</text>
<text class="tl" x="522.6" y="1432.8" text-anchor="middle">-2</text>
<text class="tl" x="670.3" y="1432.8" text-anchor="middle">0</text>
<text class="tl" x="818.0" y="1432.8" text-anchor="middle">2</text>
<text class="tl" x="965.6" y="1432.8" text-anchor="middle">4</text>
<text class="tl" x="1113.3" y="1432.8" text-anchor="middle">6</text>
<text class="tl" x="209.9" y="1375.9" text-anchor="end">0</text>
<text class="tl" x="206.9" y="1159.3" text-anchor="end">0.1</text>
<text class="tl" x="206.9" y="942.7" text-anchor="end">0.2</text>
<text class="tl" x="206.9" y="726.1" text-anchor="end">0.3</text>
<text class="tl" x="206.9" y="509.5" text-anchor="end">0.4</text>
<text class="tl" x="206.9" y="292.9" text-anchor="end">0.5</text>
<g clip-path="url(#cfig)"><g fill="#262626"><text transform="translate(595.5 1515.5) scale(1.085 1)" font-size="83" font-style="italic">x</text><text transform="translate(641.4 1533.5) scale(0.958 1)" font-size="118">/</text><text transform="translate(674.3 1517.0) scale(1.063 1)" font-size="82" font-style="italic">ξ</text><text transform="translate(709.6 1527.9) scale(1.180 1)" font-size="60" font-style="italic">n</text></g></g>
<g transform="translate(87.5 903) rotate(-90)" fill="#262626"><text transform="translate(2.1 0.0) scale(1.180 1)" font-size="82" font-style="italic">I</text><text transform="translate(35.8 12.5)" font-size="57" font-style="italic">N</text><text transform="translate(90.0 18.0) scale(0.946 1)" font-size="118">/</text><text transform="translate(128.2 0.0) scale(1.180 1)" font-size="82" font-style="italic">I</text><text transform="translate(157.2 12.5) scale(1.064 1)" font-size="57">0</text></g>
<g fill="#000"><text transform="translate(102.7 163.8) scale(1.071 1)" font-size="66.5">(</text><text transform="translate(127.3 166.4)" font-size="72">a</text><text transform="translate(157.5 163.8) scale(1.071 1)" font-size="66.5">)</text></g>
<rect x="249.4" y="55.5" width="841.3" height="157.8" fill="#fff" stroke="#262626" stroke-width="1.3"/>
<path class="c" stroke="#0000ff" stroke-width="6.4" d="M254 96H276M296 96H308.2"/>
<path class="c" stroke="#ff0000" stroke-width="6.4" d="M254 172.8H308.2"/>
<text class="lg" x="313" y="111.6" textLength="408.5" lengthAdjust="spacingAndGlyphs">Zero iteration</text>
<g fill="#000"><text transform="translate(726.4 111.7) scale(0.887 1)" font-size="72">(</text><text transform="translate(755.6 111.7)" font-size="67" font-style="italic">χ</text><text transform="translate(790.9 111.7) scale(0.881 1)" font-size="72">(</text><text transform="translate(815.2 111.7) scale(1.082 1)" font-size="69" font-style="italic">x</text><text transform="translate(852.6 111.7) scale(0.880 1)" font-size="60">,</text><text transform="translate(877.1 111.7)" font-size="65">0</text><text transform="translate(910.3 111.7) scale(0.881 1)" font-size="72">)</text><text transform="translate(949.7 115.2) scale(1.471 1)" font-size="64">=</text><text transform="translate(1018.3 111.7) scale(1.147 1)" font-size="68" font-style="italic">φ</text><text transform="translate(1061.6 111.7) scale(0.881 1)" font-size="72">)</text></g>
<text class="lg" x="314.5" y="187.7" textLength="400" lengthAdjust="spacingAndGlyphs">Last iteration</text>
</g>
<g id="panel-b">
<line x1="1517.5" y1="55.5" x2="1517.5" y2="597.5" class="g"/>
<line x1="1644.5" y1="55.5" x2="1644.5" y2="597.5" class="g"/>
<line x1="1771.5" y1="55.5" x2="1771.5" y2="597.5" class="g"/>
<line x1="1898.5" y1="55.5" x2="1898.5" y2="597.5" class="g"/>
<line x1="2025.5" y1="55.5" x2="2025.5" y2="597.5" class="g"/>
<line x1="2152.5" y1="55.5" x2="2152.5" y2="597.5" class="g"/>
<line x1="1393.5" y1="356.5" x2="2279.5" y2="356.5" class="g"/>
<line x1="1393.5" y1="115.5" x2="2279.5" y2="115.5" class="g"/>
<rect x="1393.5" y="55.5" width="886.0" height="542.0" class="bx"/>
<path d="M1517.5 597.5v-11M1517.5 55.5v11M1644.5 597.5v-11M1644.5 55.5v11M1771.5 597.5v-11M1771.5 55.5v11M1898.5 597.5v-11M1898.5 55.5v11M2025.5 597.5v-11M2025.5 55.5v11M2152.5 597.5v-11M2152.5 55.5v11M1393.5 356.5h11M2279.5 356.5h-11M1393.5 115.5h11M2279.5 115.5h-11" class="tk"/>
<g clip-path="url(#cb)">
<path class="c" stroke="#ff0000" d="M1393.8 537.0 L1394.8 536.1 L1395.8 535.3 L1396.7 534.4 L1397.6 533.4 L1398.5 532.5 L1399.4 531.6 L1400.3 530.6 L1401.1 529.6 L1401.9 528.6 L1402.7 527.6 L1403.5 526.6 L1404.3 525.6 L1405.0 524.5 L1405.8 523.5 L1406.5 522.4 L1407.2 521.3 L1407.9 520.2 L1408.5 519.1 L1409.2 518.0 L1409.9 516.9 L1410.5 515.8 L1411.2 514.7 L1411.8 513.5 L1412.4 512.4 L1413.0 511.3 L1413.6 510.1 L1414.2 509.0 L1414.9 507.8 L1415.5 506.7 L1416.1 505.5 L1416.7 504.4 L1417.3 503.2 L1417.9 502.1 L1418.5 500.9 L1419.1 499.8 L1419.7 498.6 L1420.3 497.5 L1420.9 496.3 L1421.5 495.2 L1422.1 494.0 L1422.8 492.9 L1423.4 491.7 L1424.0 490.6 L1424.6 489.5 L1425.3 488.3 L1425.9 487.2 L1426.6 486.1 L1427.2 485.0 L1427.9 483.8 L1428.5 482.7 L1429.2 481.6 L1429.8 480.5 L1430.5 479.4 L1431.1 478.3 L1431.8 477.2 L1432.5 476.0 L1433.2 474.9 L1433.8 473.8 L1434.5 472.7 L1435.2 471.7 L1435.9 470.6 L1436.6 469.5 L1437.3 468.4 L1438.0 467.3 L1438.7 466.2 L1439.4 465.1 L1440.2 464.1 L1440.9 463.0 L1441.6 461.9 L1442.3 460.9 L1443.1 459.8 L1443.8 458.7 L1444.5 457.7 L1445.3 456.6 L1446.0 455.6 L1446.8 454.5 L1447.6 453.5 L1448.3 452.4 L1449.1 451.4 L1449.9 450.4 L1450.7 449.3 L1451.4 448.3 L1452.2 447.3 L1453.0 446.3 L1453.8 445.3 L1454.6 444.2 L1455.4 443.2 L1456.2 442.2 L1457.1 441.2 L1457.9 440.2 L1458.7 439.2 L1459.5 438.2 L1460.4 437.2 L1461.2 436.2 L1462.0 435.3 L1462.9 434.3 L1463.7 433.3 L1464.6 432.3 L1465.4 431.4 L1466.3 430.4 L1467.2 429.4 L1468.0 428.5 L1468.9 427.5 L1469.8 426.5 L1470.7 425.6 L1471.5 424.6 L1472.4 423.7 L1473.3 422.8 L1474.2 421.8 L1475.1 420.9 L1476.0 419.9 L1476.9 419.0 L1477.8 418.1 L1478.7 417.2 L1479.6 416.2 L1480.5 415.3 L1481.4 414.4 L1482.4 413.5 L1483.3 412.6 L1484.2 411.7 L1485.1 410.8 L1486.1 409.9 L1487.0 409.0 L1487.9 408.1 L1488.9 407.2 L1489.8 406.3 L1490.8 405.4 L1491.7 404.5 L1492.7 403.6 L1493.6 402.7 L1494.6 401.9 L1495.5 401.0 L1496.5 400.1 L1497.4 399.2 L1498.4 398.4 L1499.4 397.5 L1500.3 396.6 L1501.3 395.8 L1502.3 394.9 L1503.3 394.1 L1504.2 393.2 L1505.2 392.4 L1506.2 391.5 L1507.2 390.7 L1508.2 389.9 L1509.2 389.0 L1510.2 388.2 L1511.2 387.4 L1512.1 386.5 L1513.1 385.7 L1514.1 384.9 L1515.2 384.1 L1516.2 383.3 L1517.2 382.5 L1518.2 381.6 L1519.2 380.8 L1520.2 380.0 L1521.2 379.2 L1522.2 378.4 L1523.3 377.7 L1524.3 376.9 L1525.3 376.1 L1526.4 375.3 L1527.4 374.5 L1528.4 373.7 L1529.5 373.0 L1530.5 372.2 L1531.5 371.4 L1532.6 370.7 L1533.6 369.9 L1534.7 369.2 L1535.7 368.4 L1536.8 367.7 L1537.8 366.9 L1538.9 366.2 L1540.0 365.4 L1541.0 364.7 L1542.1 364.0 L1543.2 363.2 L1544.2 362.5 L1545.3 361.8 L1546.4 361.1 L1547.5 360.4 L1548.5 359.7 L1549.6 359.0 L1550.7 358.3 L1551.8 357.6 L1552.9 356.9 L1554.0 356.2 L1555.1 355.5 L1556.2 354.8 L1557.3 354.1 L1558.4 353.5 L1559.5 352.8 L1560.6 352.1 L1561.7 351.5 L1562.8 350.8 L1563.9 350.1 L1565.1 349.5 L1566.2 348.8 L1567.3 348.2 L1568.4 347.6 L1569.6 346.9 L1570.7 346.3 L1571.8 345.7 L1573.0 345.0 L1574.1 344.4 L1575.3 343.8 L1576.4 343.2 L1577.5 342.6 L1578.7 342.0 L1579.8 341.4 L1581.0 340.8 L1582.2 340.2 L1583.3 339.6 L1584.5 339.0 L1585.6 338.4 L1586.8 337.8 L1587.9 337.3 L1589.1 336.7 L1590.3 336.1 L1591.4 335.5 L1592.6 334.9 L1593.8 334.4 L1594.9 333.8 L1596.1 333.2 L1597.3 332.7 L1598.4 332.1 L1599.6 331.5 L1600.8 330.9 L1601.9 330.4 L1603.1 329.8 L1604.3 329.2 L1605.4 328.7 L1606.6 328.1 L1607.8 327.5 L1608.9 326.9 L1610.1 326.4 L1611.3 325.8 L1612.4 325.2 L1613.6 324.6 L1614.8 324.1 L1615.9 323.5 L1617.1 322.9 L1618.2 322.3 L1619.4 321.7 L1620.5 321.1 L1621.7 320.6 L1622.8 320.0 L1624.0 319.4 L1625.1 318.8 L1626.3 318.2 L1627.4 317.5 L1628.5 316.9 L1629.7 316.3 L1630.8 315.7 L1631.9 315.1 L1633.0 314.4 L1634.1 313.8 L1635.2 313.1 L1636.3 312.5 L1637.4 311.7 L1638.4 311.0 L1639.4 310.2 L1640.3 309.4 L1641.3 308.5 L1642.2 307.6 L1643.0 306.7 L1643.9 305.7 L1644.8 304.8 L1645.6 303.8 L1646.5 302.9 L1647.4 301.9 L1648.2 301.0 L1649.1 300.0 L1650.0 299.1 L1650.9 298.2 L1651.7 297.2 L1652.6 296.3 L1653.5 295.4 L1654.4 294.4 L1655.3 293.5 L1656.2 292.6 L1657.1 291.7 L1658.0 290.8 L1659.0 289.9 L1659.9 289.0 L1660.8 288.1 L1661.8 287.2 L1662.7 286.4 L1663.7 285.5 L1664.6 284.6 L1665.6 283.8 L1666.6 283.0 L1667.6 282.1 L1668.6 281.3 L1669.6 280.5 L1670.6 279.7 L1671.6 278.9 L1672.6 278.2 L1673.7 277.4 L1674.7 276.6 L1675.8 275.9 L1676.8 275.2 L1677.9 274.4 L1679.0 273.7 L1680.0 273.0 L1681.1 272.3 L1682.2 271.6 L1683.3 270.9 L1684.4 270.2 L1685.5 269.6 L1686.6 268.9 L1687.7 268.3 L1688.9 267.6 L1690.0 267.0 L1691.1 266.3 L1692.3 265.7 L1693.4 265.1 L1694.5 264.4 L1695.7 263.8 L1696.8 263.2 L1698.0 262.6 L1699.1 262.0 L1700.3 261.4 L1701.5 260.8 L1702.6 260.2 L1703.8 259.6 L1704.9 259.0 L1706.1 258.4 L1707.3 257.8 L1708.4 257.3 L1709.6 256.7 L1710.8 256.1 L1711.9 255.5 L1713.1 255.0 L1714.3 254.4 L1715.5 253.8 L1716.6 253.3 L1717.8 252.7 L1719.0 252.1 L1720.1 251.6 L1721.3 251.0 L1722.5 250.5 L1723.7 249.9 L1724.8 249.4 L1726.0 248.8 L1727.2 248.3 L1728.4 247.7 L1729.6 247.2 L1730.7 246.6 L1731.9 246.1 L1733.1 245.6 L1734.3 245.0 L1735.5 244.5 L1736.6 244.0 L1737.8 243.4 L1739.0 242.9 L1740.2 242.4 L1741.4 241.9 L1742.6 241.3 L1743.7 240.8 L1744.9 240.3 L1746.1 239.8 L1747.3 239.3 L1748.5 238.7 L1749.7 238.2 L1750.9 237.7 L1752.1 237.2 L1753.3 236.7 L1754.4 236.2 L1755.6 235.7 L1756.8 235.2 L1758.0 234.7 L1759.2 234.2 L1760.4 233.7 L1761.6 233.2 L1762.8 232.7 L1764.0 232.2 L1765.2 231.7 L1766.4 231.2 L1767.6 230.7 L1768.8 230.2 L1770.0 229.7 L1771.2 229.2 L1772.4 228.8 L1773.6 228.3 L1774.8 227.8 L1776.0 227.3 L1777.2 226.8 L1778.4 226.3 L1779.6 225.9 L1780.8 225.4 L1782.0 224.9 L1783.2 224.4 L1784.4 223.9 L1785.6 223.5 L1786.8 223.0 L1788.0 222.5 L1789.2 222.0 L1790.4 221.6 L1791.6 221.1 L1792.8 220.6 L1794.0 220.2 L1795.2 219.7 L1796.4 219.2 L1797.6 218.8 L1798.8 218.3 L1800.0 217.8 L1801.2 217.4 L1802.4 216.9 L1803.6 216.4 L1804.8 216.0 L1806.0 215.5 L1807.2 215.0 L1808.5 214.6 L1809.7 214.1 L1810.9 213.7 L1812.1 213.2 L1813.3 212.7 L1814.5 212.3 L1815.7 211.8 L1816.9 211.4 L1818.1 210.9 L1819.3 210.4 L1820.5 210.0 L1821.8 209.5 L1823.0 209.1 L1824.2 208.6 L1825.4 208.2 L1826.6 207.7 L1827.8 207.2 L1829.0 206.8 L1830.2 206.3 L1831.4 205.9 L1832.6 205.4 L1833.9 205.0 L1835.1 204.5 L1836.3 204.1 L1837.5 203.6 L1838.7 203.1 L1839.9 202.7 L1841.1 202.2 L1842.3 201.8 L1843.5 201.3 L1844.8 200.9 L1846.0 200.4 L1847.2 200.0 L1848.4 199.5 L1849.6 199.1 L1850.8 198.6 L1852.0 198.1 L1853.2 197.7 L1854.5 197.2 L1855.7 196.8 L1856.9 196.3 L1858.1 195.9 L1859.3 195.4 L1860.5 195.0 L1861.7 194.5 L1862.9 194.0 L1864.2 193.6 L1865.4 193.1 L1866.6 192.7 L1867.8 192.2 L1869.0 191.8 L1870.2 191.3 L1871.4 190.9 L1872.6 190.4 L1873.9 190.0 L1875.1 189.5 L1876.3 189.0 L1877.5 188.6 L1878.7 188.1 L1879.9 187.7 L1881.1 187.2 L1882.4 186.8 L1883.6 186.3 L1884.8 185.9 L1886.0 185.4 L1887.2 185.0 L1888.4 184.5 L1889.7 184.1 L1890.9 183.6 L1892.1 183.2 L1893.3 182.7 L1894.5 182.3 L1895.7 181.8 L1896.9 181.4 L1898.2 180.9 L1899.4 180.5 L1900.6 180.1 L1901.8 179.6 L1903.0 179.2 L1904.2 178.7 L1905.5 178.3 L1906.7 177.8 L1907.9 177.4 L1909.1 176.9 L1910.3 176.5 L1911.6 176.1 L1912.8 175.6 L1914.0 175.2 L1915.2 174.7 L1916.4 174.3 L1917.6 173.9 L1918.9 173.4 L1920.1 173.0 L1921.3 172.6 L1922.5 172.1 L1923.7 171.7 L1925.0 171.2 L1926.2 170.8 L1927.4 170.4 L1928.6 169.9 L1929.9 169.5 L1931.1 169.1 L1932.3 168.7 L1933.5 168.2 L1934.7 167.8 L1936.0 167.4 L1937.2 166.9 L1938.4 166.5 L1939.6 166.1 L1940.9 165.7 L1942.1 165.2 L1943.3 164.8 L1944.5 164.4 L1945.7 164.0 L1947.0 163.6 L1948.2 163.1 L1949.4 162.7 L1950.6 162.3 L1951.9 161.9 L1953.1 161.5 L1954.3 161.0 L1955.5 160.6 L1956.8 160.2 L1958.0 159.8 L1959.2 159.4 L1960.4 159.0 L1961.7 158.6 L1962.9 158.1 L1964.1 157.7 L1965.4 157.3 L1966.6 156.9 L1967.8 156.5 L1969.0 156.1 L1970.3 155.7 L1971.5 155.3 L1972.7 154.9 L1973.9 154.5 L1975.2 154.1 L1976.4 153.7 L1977.6 153.3 L1978.9 152.8 L1980.1 152.4 L1981.3 152.0 L1982.6 151.6 L1983.8 151.2 L1985.0 150.8 L1986.2 150.4 L1987.5 150.0 L1988.7 149.6 L1989.9 149.2 L1991.2 148.8 L1992.4 148.4 L1993.6 148.0 L1994.9 147.6 L1996.1 147.2 L1997.3 146.8 L1998.5 146.4 L1999.8 146.0 L2001.0 145.6 L2002.2 145.2 L2003.5 144.8 L2004.7 144.5 L2005.9 144.1 L2007.2 143.7 L2008.4 143.3 L2009.6 142.9 L2010.9 142.5 L2012.1 142.1 L2013.3 141.7 L2014.6 141.3 L2015.8 140.9 L2017.0 140.5 L2018.3 140.1 L2019.5 139.7 L2020.7 139.3 L2022.0 138.9 L2023.2 138.5 L2024.4 138.2 L2025.7 137.8 L2026.9 137.4 L2028.1 137.0 L2029.4 136.6 L2030.6 136.2 L2031.8 135.8 L2033.1 135.4 L2034.3 135.0 L2035.5 134.6 L2036.8 134.2 L2038.0 133.8 L2039.2 133.5 L2040.5 133.1 L2041.7 132.7 L2042.9 132.3 L2044.2 131.9 L2045.4 131.5 L2046.6 131.1 L2047.9 130.7 L2049.1 130.3 L2050.3 129.9 L2051.6 129.6 L2052.8 129.2 L2054.0 128.8 L2055.3 128.4 L2056.5 128.0 L2057.7 127.6 L2059.0 127.2 L2060.2 126.8 L2061.4 126.4 L2062.7 126.1 L2063.9 125.7 L2065.1 125.3 L2066.4 124.9 L2067.6 124.5 L2068.9 124.1 L2070.1 123.7 L2071.3 123.3 L2072.6 123.0 L2073.8 122.6 L2075.0 122.2 L2076.3 121.8 L2077.5 121.4 L2078.7 121.0 L2080.0 120.6 L2081.2 120.3 L2082.4 119.9 L2083.7 119.5 L2084.9 119.1 L2086.2 118.7 L2087.4 118.3 L2088.6 118.0 L2089.9 117.6 L2091.1 117.2 L2092.3 116.8 L2093.6 116.4 L2094.8 116.0 L2096.1 115.6 L2097.3 115.3 L2098.5 114.9 L2099.8 114.5 L2101.0 114.1 L2102.2 113.7 L2103.5 113.3 L2104.7 113.0 L2105.9 112.6 L2107.2 112.2 L2108.4 111.8 L2109.7 111.4 L2110.9 111.1 L2112.1 110.7 L2113.4 110.3 L2114.6 109.9 L2115.8 109.5 L2117.1 109.2 L2118.3 108.8 L2119.6 108.4 L2120.8 108.0 L2122.0 107.6 L2123.3 107.2 L2124.5 106.9 L2125.8 106.5 L2127.0 106.1 L2128.2 105.7 L2129.5 105.4 L2130.7 105.0 L2131.9 104.6 L2133.2 104.2 L2134.4 103.8 L2135.7 103.5 L2136.9 103.1 L2138.1 102.7 L2139.4 102.3 L2140.6 101.9 L2141.9 101.6 L2143.1 101.2 L2144.3 100.8 L2145.6 100.4 L2146.8 100.1 L2148.1 99.7 L2149.3 99.3 L2150.5 98.9 L2151.8 98.6 L2153.0 98.2 L2154.3 97.8 L2155.5 97.4 L2156.7 97.1 L2158.0 96.7 L2159.2 96.3 L2160.4 95.9 L2161.7 95.6 L2162.9 95.2 L2164.2 94.8 L2165.4 94.4 L2166.6 94.1 L2167.9 93.7 L2169.1 93.3 L2170.4 92.9 L2171.6 92.6 L2172.9 92.2 L2174.1 91.8 L2175.3 91.5 L2176.6 91.1 L2177.8 90.7 L2179.1 90.3 L2180.3 90.0 L2181.5 89.6 L2182.8 89.2 L2184.0 88.9 L2185.3 88.5 L2186.5 88.1 L2187.7 87.7 L2189.0 87.4 L2190.2 87.0 L2191.5 86.6 L2192.7 86.3 L2193.9 85.9 L2195.2 85.5 L2196.4 85.2 L2197.7 84.8 L2198.9 84.4 L2200.2 84.0 L2201.4 83.7 L2202.6 83.3 L2203.9 82.9 L2205.1 82.6 L2206.4 82.2 L2207.6 81.8 L2208.8 81.5 L2210.1 81.1 L2211.3 80.7 L2212.6 80.4 L2213.8 80.0 L2215.1 79.6 L2216.3 79.3 L2217.5 78.9 L2218.8 78.5 L2220.0 78.2 L2221.3 77.8 L2222.5 77.4 L2223.7 77.1 L2225.0 76.7 L2226.2 76.4 L2227.5 76.0 L2228.7 75.6 L2230.0 75.3 L2231.2 74.9 L2232.4 74.5 L2233.7 74.2 L2234.9 73.8 L2236.2 73.4 L2237.4 73.1 L2238.7 72.7 L2239.9 72.4 L2241.1 72.0 L2242.4 71.6 L2243.6 71.3 L2244.9 70.9 L2246.1 70.6 L2247.4 70.2 L2248.6 69.8 L2249.8 69.5 L2251.1 69.1 L2252.3 68.8 L2253.6 68.4 L2254.8 68.0 L2256.1 67.7 L2257.3 67.3 L2258.6 67.0 L2259.8 66.6 L2261.0 66.2 L2262.3 65.9 L2263.5 65.5 L2264.8 65.2 L2266.0 64.8 L2267.3 64.5 L2268.5 64.1 L2269.7 63.7 L2271.0 63.4 L2272.2 63.0 L2273.5 62.7 L2274.7 62.3 L2276.0 62.0 L2277.2 61.6 L2278.5 61.3 L2279.7 60.9"/>
<path class="c" stroke="#008000" stroke-dasharray="22.4 20" d="M1393.5 321.0 L2279.7 59.8"/>
</g>
<text class="tl" x="1376.4" y="622.9" text-anchor="end">0.2</text>
<text class="tl" x="1376.4" y="382.0" text-anchor="end">0.4</text>
<text class="tl" x="1376.4" y="141.1" text-anchor="end">0.6</text>
<g fill="#262626"><text transform="translate(1761.9 680.5) scale(1.085 1)" font-size="83" font-style="italic">x</text><text transform="translate(1807.8 698.5) scale(0.958 1)" font-size="118">/</text><text transform="translate(1840.7 682.0) scale(1.063 1)" font-size="82" font-style="italic">ξ</text><text transform="translate(1876.0 692.9) scale(1.180 1)" font-size="60" font-style="italic">n</text></g>
<g transform="translate(1204 480.7) rotate(-90)" fill="#262626"><text transform="translate(7.1 0.0)" font-size="80" font-style="italic">χ</text><text transform="translate(50.9 0.0) scale(0.880 1)" font-size="88">(</text><text transform="translate(79.7 0.0) scale(1.055 1)" font-size="83" font-style="italic">x</text><text transform="translate(124.6 0.0) scale(0.880 1)" font-size="72">,</text><text transform="translate(154.7 0.0)" font-size="80">0</text><text transform="translate(195.7 0.0) scale(0.880 1)" font-size="88">)</text><text transform="translate(229.4 18.0) scale(0.939 1)" font-size="118">/</text><text transform="translate(265.6 0.0)" font-size="80" font-style="italic">π</text></g>
<g fill="#000"><text transform="translate(1186.5 67.9) scale(1.071 1)" font-size="66.5">(</text><text transform="translate(1210.8 70.5)" font-size="72">b</text><text transform="translate(1245.6 67.9) scale(1.071 1)" font-size="66.5">)</text></g>
<g fill="#008000"><text transform="translate(1245.4 307.7) scale(1.062 1)" font-size="73" font-weight="bold" font-style="italic">φ</text><text transform="translate(1291.4 318.8)" font-size="48" font-weight="bold" font-style="italic">g</text><text transform="translate(1323.7 324.8) scale(0.885 1)" font-size="107" font-weight="bold">/</text><text transform="translate(1354.3 307.7)" font-size="72" font-weight="bold">2</text></g>
</g>
<g id="panel-c">
<line x1="1517.5" y1="729.5" x2="1517.5" y2="1350.5" class="g"/>
<line x1="1644.5" y1="729.5" x2="1644.5" y2="1350.5" class="g"/>
<line x1="1771.5" y1="729.5" x2="1771.5" y2="1350.5" class="g"/>
<line x1="1898.5" y1="729.5" x2="1898.5" y2="1350.5" class="g"/>
<line x1="2025.5" y1="729.5" x2="2025.5" y2="1350.5" class="g"/>
<line x1="2152.5" y1="729.5" x2="2152.5" y2="1350.5" class="g"/>
<line x1="1393.5" y1="1040.5" x2="2279.5" y2="1040.5" class="g"/>
<rect x="1393.5" y="729.5" width="886.0" height="621.0" class="bx"/>
<path d="M1517.5 1350.5v-11M1517.5 729.5v11M1644.5 1350.5v-11M1644.5 729.5v11M1771.5 1350.5v-11M1771.5 729.5v11M1898.5 1350.5v-11M1898.5 729.5v11M2025.5 1350.5v-11M2025.5 729.5v11M2152.5 1350.5v-11M2152.5 729.5v11M1393.5 1040.5h11M2279.5 1040.5h-11" class="tk"/>
<g clip-path="url(#cc)">
<path class="c" stroke="#ff0000" d="M1393.9 1285.4 L1393.9 1284.0 L1393.9 1282.5 L1393.9 1281.1 L1393.9 1279.6 L1393.9 1278.2 L1393.9 1276.7 L1393.9 1275.3 L1394.0 1273.8 L1394.0 1272.4 L1394.0 1270.9 L1394.0 1269.5 L1394.0 1268.1 L1394.0 1266.6 L1394.0 1265.2 L1394.0 1263.7 L1394.0 1262.3 L1394.0 1260.8 L1394.0 1259.4 L1394.0 1257.9 L1394.0 1256.5 L1394.1 1255.0 L1394.1 1253.6 L1394.1 1252.2 L1394.1 1250.7 L1394.1 1249.3 L1394.1 1247.8 L1394.1 1246.4 L1394.1 1244.9 L1394.1 1243.5 L1394.1 1242.0 L1394.1 1240.6 L1394.1 1239.1 L1394.2 1237.7 L1394.2 1236.2 L1394.2 1234.8 L1394.2 1233.3 L1394.2 1231.9 L1394.2 1230.5 L1394.2 1229.0 L1394.2 1227.6 L1394.2 1226.1 L1394.2 1224.7 L1394.3 1223.2 L1394.3 1221.8 L1394.3 1220.3 L1394.3 1218.9 L1394.3 1217.4 L1394.3 1216.0 L1394.3 1214.5 L1394.3 1213.1 L1394.3 1211.6 L1394.4 1210.2 L1394.4 1208.7 L1394.4 1207.3 L1394.4 1205.9 L1394.4 1204.4 L1394.4 1203.0 L1394.4 1201.5 L1394.4 1200.1 L1394.4 1198.6 L1394.5 1197.2 L1394.5 1195.7 L1394.5 1194.3 L1394.5 1192.8 L1394.5 1191.4 L1394.5 1189.9 L1394.5 1188.5 L1394.6 1187.0 L1394.6 1185.6 L1394.6 1184.1 L1394.6 1182.7 L1394.6 1181.2 L1394.6 1179.8 L1394.6 1178.3 L1394.7 1176.9 L1394.7 1175.4 L1394.7 1174.0 L1394.7 1172.5 L1394.7 1171.1 L1394.7 1169.7 L1394.7 1168.2 L1394.8 1166.8 L1394.8 1165.3 L1394.8 1163.9 L1394.8 1162.4 L1394.8 1161.0 L1394.8 1159.5 L1394.9 1158.1 L1394.9 1156.6 L1394.9 1155.2 L1394.9 1153.7 L1394.9 1152.3 L1394.9 1150.8 L1395.0 1149.4 L1395.0 1147.9 L1395.0 1146.5 L1395.0 1145.0 L1395.0 1143.6 L1395.0 1142.1 L1395.1 1140.7 L1395.1 1139.2 L1395.1 1137.8 L1395.1 1136.3 L1395.1 1134.9 L1395.2 1133.4 L1395.2 1132.0 L1395.2 1130.5 L1395.2 1129.1 L1395.2 1127.6 L1395.3 1126.2 L1395.3 1124.7 L1395.3 1123.3 L1395.3 1121.8 L1395.3 1120.4 L1395.4 1118.9 L1395.4 1117.5 L1395.4 1116.0 L1395.4 1114.6 L1395.4 1113.2 L1395.5 1111.7 L1395.5 1110.3 L1395.5 1108.8 L1395.5 1107.4 L1395.6 1105.9 L1395.6 1104.5 L1395.6 1103.0 L1395.6 1101.6 L1395.6 1100.1 L1395.7 1098.7 L1395.7 1097.2 L1395.7 1095.8 L1395.7 1094.3 L1395.8 1092.9 L1395.8 1091.4 L1395.8 1090.0 L1395.8 1088.5 L1395.9 1087.1 L1395.9 1085.6 L1395.9 1084.2 L1395.9 1082.7 L1396.0 1081.3 L1396.0 1079.8 L1396.0 1078.4 L1396.0 1076.9 L1396.1 1075.5 L1396.1 1074.0 L1396.1 1072.6 L1396.2 1071.1 L1396.2 1069.7 L1396.2 1068.2 L1396.2 1066.8 L1396.3 1065.3 L1396.3 1063.9 L1396.3 1062.4 L1396.4 1061.0 L1396.4 1059.5 L1396.4 1058.1 L1396.4 1056.6 L1396.5 1055.2 L1396.5 1053.7 L1396.5 1052.3 L1396.6 1050.9 L1396.6 1049.4 L1396.6 1048.0 L1396.7 1046.5 L1396.7 1045.1 L1396.7 1043.6 L1396.8 1042.2 L1396.8 1040.7 L1396.8 1039.3 L1396.9 1037.8 L1396.9 1036.4 L1396.9 1034.9 L1397.0 1033.5 L1397.0 1032.0 L1397.0 1030.6 L1397.1 1029.1 L1397.1 1027.7 L1397.1 1026.2 L1397.2 1024.8 L1397.2 1023.3 L1397.2 1021.9 L1397.3 1020.4 L1397.3 1019.0 L1397.3 1017.5 L1397.4 1016.1 L1397.4 1014.6 L1397.4 1013.2 L1397.5 1011.7 L1397.5 1010.3 L1397.6 1008.9 L1397.6 1007.4 L1397.6 1006.0 L1397.7 1004.5 L1397.7 1003.1 L1397.8 1001.6 L1397.8 1000.2 L1397.8 998.7 L1397.9 997.3 L1397.9 995.8 L1398.0 994.4 L1398.0 992.9 L1398.0 991.5 L1398.1 990.0 L1398.1 988.6 L1398.2 987.1 L1398.2 985.7 L1398.2 984.2 L1398.3 982.8 L1398.3 981.4 L1398.4 979.9 L1398.4 978.5 L1398.5 977.0 L1398.5 975.6 L1398.5 974.1 L1398.6 972.7 L1398.6 971.2 L1398.7 969.8 L1398.7 968.3 L1398.8 966.9 L1398.8 965.4 L1398.9 964.0 L1398.9 962.5 L1399.0 961.1 L1399.0 959.6 L1399.1 958.2 L1399.1 956.8 L1399.1 955.3 L1399.2 953.9 L1399.2 952.4 L1399.3 951.0 L1399.3 949.5 L1399.4 948.1 L1399.4 946.6 L1399.5 945.2 L1399.5 943.7 L1399.6 942.3 L1399.6 940.9 L1399.7 939.4 L1399.7 938.0 L1399.8 936.5 L1399.9 935.1 L1399.9 933.6 L1400.0 932.2 L1400.0 930.7 L1400.1 929.3 L1400.1 927.8 L1400.2 926.4 L1400.2 925.0 L1400.3 923.5 L1400.3 922.1 L1400.4 920.6 L1400.4 919.2 L1400.5 917.7 L1400.6 916.3 L1400.6 914.8 L1400.7 913.4 L1400.7 912.0 L1400.8 910.5 L1400.8 909.1 L1400.9 907.6 L1401.0 906.2 L1401.0 904.7 L1401.1 903.3 L1401.1 901.8 L1401.2 900.4 L1401.3 899.0 L1401.3 897.5 L1401.4 896.1 L1401.4 894.6 L1401.5 893.2 L1401.6 891.7 L1401.6 890.3 L1401.7 888.9 L1401.8 887.4 L1401.8 886.0 L1401.9 884.5 L1401.9 883.1 L1402.0 881.6 L1402.1 880.2 L1402.1 878.8 L1402.2 877.3 L1402.3 875.9 L1402.3 874.4 L1402.4 873.0 L1402.5 871.5 L1402.5 870.1 L1402.6 868.7 L1402.7 867.2 L1402.8 865.8 L1402.8 864.3 L1402.9 862.9 L1403.0 861.4 L1403.1 860.0 L1403.1 858.6 L1403.2 857.1 L1403.3 855.7 L1403.4 854.2 L1403.4 852.8 L1403.5 851.3 L1403.6 849.9 L1403.7 848.5 L1403.8 847.0 L1403.9 845.6 L1404.0 844.1 L1404.1 842.7 L1404.2 841.2 L1404.3 839.8 L1404.3 838.3 L1404.4 836.9 L1404.5 835.4 L1404.7 834.0 L1404.8 832.6 L1404.9 831.1 L1405.0 829.7 L1405.1 828.2 L1405.2 826.8 L1405.3 825.3 L1405.4 823.9 L1405.6 822.4 L1405.7 821.0 L1405.8 819.5 L1405.9 818.1 L1406.1 816.6 L1406.2 815.2 L1406.3 813.7 L1406.5 812.3 L1406.6 810.8 L1406.7 809.4 L1406.9 807.9 L1407.0 806.5 L1407.2 805.0 L1407.3 803.6 L1407.5 802.1 L1407.7 800.7 L1407.8 799.2 L1408.0 797.7 L1408.2 796.3 L1408.3 794.8 L1408.5 793.4 L1408.7 791.9 L1408.9 790.5 L1409.1 789.0 L1409.3 787.5 L1409.5 786.1 L1409.8 784.6 L1410.1 783.1 L1410.4 781.7 L1410.8 780.2 L1411.3 778.7 L1411.9 777.2 L1412.5 775.8 L1413.2 774.5 L1413.9 773.4 L1414.6 772.5 L1415.3 772.0 L1416.1 771.8 L1416.9 772.0 L1417.6 772.6 L1418.3 773.5 L1419.0 774.6 L1419.7 775.9 L1420.4 777.3 L1421.0 778.8 L1421.7 780.4 L1422.2 781.9 L1422.8 783.4 L1423.4 784.8 L1423.9 786.3 L1424.4 787.7 L1424.8 789.2 L1425.3 790.6 L1425.7 792.0 L1426.1 793.4 L1426.6 794.8 L1426.9 796.2 L1427.3 797.6 L1427.7 798.9 L1428.0 800.3 L1428.4 801.7 L1428.7 803.1 L1429.1 804.5 L1429.4 805.9 L1429.7 807.3 L1430.0 808.7 L1430.4 810.1 L1430.7 811.5 L1431.0 812.9 L1431.3 814.4 L1431.6 815.8 L1431.9 817.2 L1432.2 818.6 L1432.5 820.0 L1432.8 821.5 L1433.1 822.9 L1433.4 824.3 L1433.7 825.7 L1434.0 827.1 L1434.3 828.6 L1434.6 830.0 L1434.9 831.4 L1435.2 832.8 L1435.5 834.2 L1435.8 835.6 L1436.1 837.0 L1436.4 838.5 L1436.8 839.9 L1437.1 841.3 L1437.4 842.7 L1437.7 844.1 L1438.0 845.5 L1438.3 846.9 L1438.6 848.3 L1439.0 849.7 L1439.3 851.1 L1439.6 852.5 L1439.9 853.9 L1440.2 855.3 L1440.6 856.8 L1440.9 858.2 L1441.2 859.6 L1441.5 861.0 L1441.9 862.4 L1442.2 863.8 L1442.5 865.2 L1442.8 866.6 L1443.2 868.0 L1443.5 869.4 L1443.8 870.8 L1444.1 872.2 L1444.5 873.6 L1444.8 875.0 L1445.1 876.4 L1445.5 877.8 L1445.8 879.2 L1446.1 880.6 L1446.4 882.0 L1446.8 883.4 L1447.1 884.8 L1447.4 886.2 L1447.7 887.7 L1448.1 889.1 L1448.4 890.5 L1448.7 891.9 L1449.0 893.3 L1449.4 894.7 L1449.7 896.1 L1450.0 897.5 L1450.4 898.9 L1450.7 900.3 L1451.0 901.7 L1451.3 903.2 L1451.7 904.6 L1452.0 906.0 L1452.3 907.4 L1452.7 908.8 L1453.0 910.2 L1453.3 911.6 L1453.7 913.0 L1454.0 914.5 L1454.3 915.9 L1454.7 917.3 L1455.0 918.7 L1455.4 920.1 L1455.7 921.5 L1456.0 922.9 L1456.4 924.3 L1456.7 925.7 L1457.1 927.2 L1457.4 928.6 L1457.8 930.0 L1458.1 931.4 L1458.5 932.8 L1458.8 934.2 L1459.2 935.6 L1459.5 937.0 L1459.9 938.4 L1460.2 939.8 L1460.6 941.3 L1460.9 942.7 L1461.3 944.1 L1461.7 945.5 L1462.0 946.9 L1462.4 948.3 L1462.8 949.7 L1463.1 951.1 L1463.5 952.5 L1463.9 953.9 L1464.2 955.3 L1464.6 956.7 L1465.0 958.1 L1465.4 959.5 L1465.8 960.9 L1466.1 962.3 L1466.5 963.7 L1466.9 965.1 L1467.3 966.5 L1467.7 967.9 L1468.1 969.3 L1468.5 970.7 L1468.9 972.1 L1469.3 973.5 L1469.7 974.9 L1470.1 976.3 L1470.5 977.7 L1471.0 979.1 L1471.4 980.5 L1471.8 981.8 L1472.2 983.2 L1472.6 984.6 L1473.1 986.0 L1473.5 987.4 L1473.9 988.8 L1474.4 990.1 L1474.8 991.5 L1475.3 992.9 L1475.7 994.3 L1476.2 995.7 L1476.6 997.0 L1477.1 998.4 L1477.5 999.8 L1478.0 1001.2 L1478.5 1002.5 L1478.9 1003.9 L1479.4 1005.3 L1479.9 1006.6 L1480.4 1008.0 L1480.8 1009.4 L1481.3 1010.7 L1481.8 1012.1 L1482.3 1013.4 L1482.8 1014.8 L1483.3 1016.2 L1483.8 1017.5 L1484.3 1018.9 L1484.8 1020.2 L1485.4 1021.6 L1485.9 1022.9 L1486.4 1024.3 L1486.9 1025.6 L1487.5 1026.9 L1488.0 1028.3 L1488.6 1029.6 L1489.1 1031.0 L1489.7 1032.3 L1490.2 1033.6 L1490.8 1035.0 L1491.3 1036.3 L1491.9 1037.6 L1492.5 1038.9 L1493.1 1040.3 L1493.6 1041.6 L1494.2 1042.9 L1494.8 1044.2 L1495.4 1045.6 L1496.0 1046.9 L1496.6 1048.2 L1497.2 1049.5 L1497.8 1050.8 L1498.4 1052.1 L1499.1 1053.4 L1499.7 1054.7 L1500.3 1056.0 L1500.9 1057.3 L1501.6 1058.6 L1502.2 1059.9 L1502.9 1061.2 L1503.5 1062.5 L1504.2 1063.8 L1504.8 1065.0 L1505.5 1066.3 L1506.2 1067.6 L1506.8 1068.9 L1507.5 1070.2 L1508.2 1071.4 L1508.9 1072.7 L1509.6 1074.0 L1510.3 1075.2 L1511.0 1076.5 L1511.7 1077.8 L1512.4 1079.0 L1513.1 1080.3 L1513.8 1081.5 L1514.5 1082.8 L1515.2 1084.0 L1516.0 1085.3 L1516.7 1086.5 L1517.4 1087.8 L1518.2 1089.0 L1518.9 1090.2 L1519.7 1091.5 L1520.4 1092.7 L1521.2 1093.9 L1522.0 1095.1 L1522.7 1096.4 L1523.5 1097.6 L1524.3 1098.8 L1525.1 1100.0 L1525.9 1101.2 L1526.7 1102.4 L1527.5 1103.6 L1528.3 1104.8 L1529.1 1106.0 L1529.9 1107.2 L1530.7 1108.4 L1531.5 1109.6 L1532.3 1110.8 L1533.2 1112.0 L1534.0 1113.2 L1534.8 1114.3 L1535.7 1115.5 L1536.5 1116.7 L1537.4 1117.9 L1538.3 1119.0 L1539.1 1120.2 L1540.0 1121.3 L1540.9 1122.5 L1541.7 1123.7 L1542.6 1124.8 L1543.5 1126.0 L1544.4 1127.1 L1545.3 1128.2 L1546.2 1129.4 L1547.1 1130.5 L1548.0 1131.6 L1548.9 1132.8 L1549.8 1133.9 L1550.8 1135.0 L1551.7 1136.1 L1552.6 1137.2 L1553.6 1138.4 L1554.5 1139.5 L1555.4 1140.6 L1556.4 1141.7 L1557.4 1142.8 L1558.3 1143.9 L1559.3 1144.9 L1560.3 1146.0 L1561.2 1147.1 L1562.2 1148.2 L1563.2 1149.3 L1564.2 1150.3 L1565.2 1151.4 L1566.2 1152.5 L1567.2 1153.5 L1568.2 1154.6 L1569.2 1155.6 L1570.2 1156.7 L1571.3 1157.7 L1572.3 1158.8 L1573.3 1159.8 L1574.4 1160.8 L1575.4 1161.9 L1576.5 1162.9 L1577.5 1163.9 L1578.6 1164.9 L1579.7 1165.9 L1580.8 1166.8 L1581.8 1167.8 L1582.9 1168.8 L1584.0 1169.7 L1585.2 1170.7 L1586.3 1171.6 L1587.4 1172.5 L1588.5 1173.4 L1589.7 1174.3 L1590.8 1175.1 L1592.0 1176.0 L1593.2 1176.8 L1594.4 1177.6 L1595.6 1178.4 L1596.8 1179.2 L1598.0 1180.0 L1599.2 1180.7 L1600.5 1181.5 L1601.7 1182.2 L1603.0 1182.9 L1604.2 1183.5 L1605.5 1184.2 L1606.8 1184.8 L1608.1 1185.4 L1609.4 1185.9 L1610.8 1186.4 L1612.1 1186.7 L1613.4 1187.0 L1614.7 1187.1 L1615.9 1187.0 L1617.2 1186.7 L1618.4 1186.2 L1619.6 1185.5 L1620.8 1184.7 L1621.9 1183.8 L1623.0 1182.7 L1624.0 1181.5 L1625.0 1180.3 L1626.0 1179.0 L1626.9 1177.6 L1627.7 1176.2 L1628.6 1174.8 L1629.3 1173.3 L1630.0 1171.9 L1630.6 1170.5 L1631.2 1169.2 L1631.8 1167.8 L1632.3 1166.4 L1632.7 1165.1 L1633.2 1163.7 L1633.6 1162.4 L1633.9 1161.0 L1634.3 1159.6 L1634.6 1158.3 L1634.9 1156.9 L1635.2 1155.6 L1635.5 1154.2 L1635.8 1152.8 L1636.1 1151.4 L1636.4 1150.0 L1636.6 1148.6 L1636.9 1147.2 L1637.1 1145.8 L1637.4 1144.4 L1637.6 1143.0 L1637.8 1141.6 L1638.0 1140.2 L1638.2 1138.8 L1638.4 1137.3 L1638.6 1135.9 L1638.8 1134.5 L1639.0 1133.0 L1639.1 1131.6 L1639.3 1130.1 L1639.5 1128.7 L1639.6 1127.3 L1639.8 1125.8 L1639.9 1124.4 L1640.1 1122.9 L1640.2 1121.5 L1640.3 1120.0 L1640.5 1118.6 L1640.6 1117.1 L1640.7 1115.7 L1640.9 1114.2 L1641.0 1112.8 L1641.1 1111.3 L1641.3 1109.9 L1641.4 1108.4 L1641.5 1107.0 L1641.6 1105.5 L1641.7 1104.1 L1641.9 1102.6 L1642.0 1101.2 L1642.1 1099.7 L1642.2 1098.3 L1642.3 1096.8 L1642.4 1095.4 L1642.5 1093.9 L1642.6 1092.5 L1642.7 1091.0 L1642.8 1089.6 L1642.9 1088.1 L1643.0 1086.7 L1643.1 1085.2 L1643.2 1083.8 L1643.3 1082.3 L1643.4 1080.9 L1643.5 1079.4 L1643.6 1078.0 L1643.6 1076.5 L1643.7 1075.1 L1643.8 1073.7 L1643.9 1072.2 L1644.0 1070.8 L1644.0 1069.3 L1644.1 1067.9 L1644.2 1066.4 L1644.3 1065.0 L1644.3 1063.5 L1644.4 1062.1 L1644.5 1060.6 L1644.6 1059.2 L1644.6 1057.8 L1644.7 1056.3 L1644.7 1054.9 L1644.8 1053.4 L1644.9 1052.0 L1644.9 1050.5 L1645.0 1049.1 L1645.1 1047.6 L1645.1 1046.2 L1645.2 1044.7 L1645.2 1043.3 L1645.3 1041.9 L1645.3 1040.4 L1645.4 1039.0 L1645.4 1037.5 L1645.5 1036.1 L1645.5 1034.6 L1645.6 1033.2 L1645.6 1031.7 L1645.7 1030.3 L1645.7 1028.9 L1645.8 1027.4 L1645.8 1026.0 L1645.8 1024.5 L1645.9 1023.1 L1645.9 1021.6 L1646.0 1020.2 L1646.0 1018.8 L1646.0 1017.3 L1646.1 1015.9 L1646.1 1014.4 L1646.1 1013.0 L1646.2 1011.5 L1646.2 1010.1 L1646.2 1008.6 L1646.3 1007.2 L1646.3 1005.8 L1646.3 1004.3 L1646.3 1002.9 L1646.4 1001.4 L1646.4 1000.0 L1646.4 998.5 L1646.4 997.1 L1646.5 995.6 L1646.5 994.2 L1646.5 992.8 L1646.5 991.3 L1646.6 989.9 L1646.6 988.4 L1646.6 987.0 L1646.6 985.5 L1646.6 984.1 L1646.7 982.6 L1646.7 981.2 L1646.7 979.8 L1646.7 978.3 L1646.7 976.9 L1646.8 975.4 L1646.8 974.0 L1646.8 972.5 L1646.8 971.1 L1646.8 969.6 L1646.8 968.2 L1646.8 966.7 L1646.9 965.3 L1646.9 963.9 L1646.9 962.4 L1646.9 961.0 L1646.9 959.5 L1646.9 958.1 L1646.9 956.6 L1647.0 955.2 L1647.0 953.7 L1647.0 952.3 L1647.0 950.8 L1647.0 949.4 L1647.0 947.9 L1647.0 946.5 L1647.0 945.0 L1647.0 943.6 L1647.0 942.2 L1647.1 940.7 L1647.1 939.3 L1647.1 937.8 L1647.1 936.4 L1647.1 934.9 L1647.1 933.5 L1647.1 932.0 L1647.1 930.6 L1647.1 929.1 L1647.1 927.7 L1647.2 926.2 L1647.2 924.8 L1647.2 923.3 L1647.2 921.9 L1647.2 920.4 L1647.2 919.0 L1647.2 917.5 L1647.2 916.1 L1647.2 914.6 L1647.3 913.2 L1647.3 911.7 L1647.3 910.3 L1647.3 908.8 L1647.3 907.4 L1647.3 905.9 L1647.3 904.4 L1647.3 903.0 L1647.3 901.5 L1647.4 900.1 L1647.4 898.6 L1647.4 897.2 L1647.4 895.7 L1647.4 894.3 L1647.4 892.8 L1647.5 891.4 L1647.5 889.9 L1647.5 888.5 L1647.5 887.0 L1647.6 888.3 L1647.7 889.6 L1647.8 890.9 L1647.8 892.1 L1647.9 893.4 L1648.0 894.7 L1648.1 896.0 L1648.1 897.3 L1648.2 898.6 L1648.3 899.8 L1648.3 901.1 L1648.4 902.4 L1648.4 903.7 L1648.5 905.0 L1648.6 906.3 L1648.6 907.5 L1648.7 908.8 L1648.7 910.1 L1648.8 911.4 L1648.8 912.7 L1648.8 913.9 L1648.9 915.2 L1648.9 916.5 L1649.0 917.8 L1649.0 919.0 L1649.0 920.3 L1649.1 921.6 L1649.1 922.9 L1649.1 924.1 L1649.2 925.4 L1649.2 926.7 L1649.2 928.0 L1649.3 929.2 L1649.3 930.5 L1649.3 931.8 L1649.3 933.1 L1649.4 934.3 L1649.4 935.6 L1649.4 936.9 L1649.4 938.1 L1649.4 939.4 L1649.4 940.7 L1649.5 942.0 L1649.5 943.2 L1649.5 944.5 L1649.5 945.8 L1649.5 947.0 L1649.5 948.3 L1649.5 949.6 L1649.6 950.9 L1649.6 952.1 L1649.6 953.4 L1649.6 954.7 L1649.6 955.9 L1649.6 957.2 L1649.6 958.5 L1649.6 959.7 L1649.6 961.0 L1649.7 962.3 L1649.7 963.5 L1649.7 964.8 L1649.7 966.1 L1649.7 967.3 L1649.7 968.6 L1649.7 969.9 L1649.7 971.1 L1649.7 972.4 L1649.7 973.7 L1649.7 974.9 L1649.8 976.2 L1649.8 977.5 L1649.8 978.7 L1649.8 980.0 L1649.8 981.3 L1649.8 982.5 L1649.8 983.8 L1649.8 985.1 L1649.9 986.3 L1649.9 987.6 L1649.9 988.9 L1649.9 990.1 L1649.9 991.4 L1649.9 992.7 L1650.0 993.9 L1650.0 995.2 L1650.0 996.5 L1650.0 997.7 L1650.1 999.0 L1650.1 1000.3 L1650.1 1001.5 L1650.1 1002.8 L1650.2 1004.1 L1650.2 1005.3 L1650.2 1006.6 L1650.3 1007.9 L1650.3 1009.1 L1650.3 1010.4 L1650.4 1011.7 L1650.4 1012.9 L1650.4 1014.2 L1650.5 1015.5 L1650.5 1016.7 L1650.6 1018.0 L1650.6 1019.3 L1650.7 1020.5 L1650.7 1021.8 L1650.8 1023.1 L1650.8 1024.3 L1650.9 1025.6 L1650.9 1026.9 L1651.0 1028.1 L1651.1 1029.4 L1651.1 1030.7 L1651.2 1032.0 L1651.3 1033.2 L1651.3 1034.5 L1651.4 1035.8 L1651.5 1037.0 L1651.6 1038.3 L1651.7 1039.6 L1651.7 1040.8 L1651.8 1042.1 L1651.9 1043.4 L1652.0 1044.7 L1652.1 1045.9 L1652.2 1047.2 L1652.3 1048.5 L1652.4 1049.7 L1652.5 1051.0 L1652.6 1052.3 L1652.7 1053.6 L1652.8 1054.8 L1653.0 1056.1 L1653.1 1057.4 L1653.2 1058.7 L1653.3 1059.9 L1653.4 1061.2 L1653.6 1062.5 L1653.7 1063.8 L1653.9 1065.0 L1654.0 1066.3 L1654.1 1067.6 L1654.3 1068.9 L1654.4 1070.1 L1654.6 1071.4 L1654.8 1072.7 L1654.9 1074.0 L1655.1 1075.2 L1655.3 1076.5 L1655.4 1077.8 L1655.6 1079.1 L1655.8 1080.3 L1656.0 1081.6 L1656.2 1082.9 L1656.4 1084.2 L1656.6 1085.4 L1656.8 1086.7 L1657.1 1088.0 L1657.3 1089.2 L1657.5 1090.5 L1657.7 1091.8 L1658.0 1093.0 L1658.2 1094.3 L1658.5 1095.5 L1658.8 1096.8 L1659.0 1098.1 L1659.3 1099.3 L1659.6 1100.5 L1659.9 1101.8 L1660.2 1103.0 L1660.5 1104.3 L1660.9 1105.5 L1661.2 1106.7 L1661.5 1108.0 L1661.9 1109.2 L1662.2 1110.4 L1662.6 1111.6 L1663.0 1112.8 L1663.4 1114.0 L1663.8 1115.2 L1664.2 1116.4 L1664.6 1117.6 L1665.0 1118.8 L1665.5 1120.0 L1665.9 1121.1 L1666.4 1122.3 L1666.9 1123.5 L1667.4 1124.6 L1667.9 1125.8 L1668.4 1126.9 L1668.9 1128.1 L1669.4 1129.2 L1670.0 1130.3 L1670.5 1131.5 L1671.1 1132.6 L1671.7 1133.7 L1672.3 1134.8 L1672.9 1135.9 L1673.5 1137.0 L1674.2 1138.0 L1674.8 1139.1 L1675.5 1140.2 L1676.1 1141.2 L1676.8 1142.3 L1677.5 1143.3 L1678.2 1144.4 L1679.0 1145.4 L1679.7 1146.4 L1680.4 1147.4 L1681.2 1148.5 L1682.0 1149.5 L1682.7 1150.5 L1683.5 1151.4 L1684.3 1152.4 L1685.1 1153.4 L1686.0 1154.4 L1686.8 1155.3 L1687.6 1156.3 L1688.5 1157.2 L1689.3 1158.2 L1690.2 1159.1 L1691.0 1160.1 L1691.9 1161.0 L1692.8 1161.9 L1693.7 1162.8 L1694.6 1163.7 L1695.5 1164.6 L1696.4 1165.5 L1697.4 1166.4 L1698.3 1167.2 L1699.3 1168.1 L1700.2 1169.0 L1701.2 1169.8 L1702.1 1170.7 L1703.1 1171.5 L1704.0 1172.3 L1705.0 1173.2 L1706.0 1174.0 L1707.0 1174.8 L1708.0 1175.6 L1709.0 1176.4 L1710.0 1177.2 L1711.0 1178.0 L1712.0 1178.8 L1713.0 1179.5 L1714.1 1180.3 L1715.1 1181.1 L1716.1 1181.8 L1717.2 1182.6 L1718.2 1183.3 L1719.3 1184.0 L1720.3 1184.8 L1721.4 1185.5 L1722.4 1186.2 L1723.5 1186.9 L1724.6 1187.6 L1725.7 1188.3 L1726.7 1189.0 L1727.8 1189.6 L1728.9 1190.3 L1730.0 1191.0 L1731.1 1191.6 L1732.2 1192.3 L1733.3 1192.9 L1734.4 1193.6 L1735.5 1194.2 L1736.6 1194.8 L1737.7 1195.4 L1738.9 1196.0 L1740.0 1196.6 L1741.1 1197.2 L1742.2 1197.8 L1743.4 1198.4 L1744.5 1199.0 L1745.6 1199.5 L1746.8 1200.1 L1747.9 1200.6 L1749.1 1201.2 L1750.2 1201.7 L1751.4 1202.2 L1752.5 1202.8 L1753.7 1203.3 L1754.8 1203.8 L1756.0 1204.3 L1757.1 1204.8 L1758.3 1205.3 L1759.5 1205.7 L1760.6 1206.2 L1761.8 1206.7 L1763.0 1207.2 L1764.2 1207.6 L1765.3 1208.1 L1766.5 1208.5 L1767.7 1208.9 L1768.9 1209.4 L1770.1 1209.8 L1771.3 1210.2 L1772.5 1210.6 L1773.6 1211.0 L1774.8 1211.5 L1776.0 1211.9 L1777.2 1212.2 L1778.4 1212.6 L1779.6 1213.0 L1780.9 1213.4 L1782.1 1213.8 L1783.3 1214.1 L1784.5 1214.5 L1785.7 1214.8 L1786.9 1215.2 L1788.1 1215.5 L1789.3 1215.9 L1790.6 1216.2 L1791.8 1216.5 L1793.0 1216.9 L1794.2 1217.2 L1795.4 1217.5 L1796.7 1217.8 L1797.9 1218.1 L1799.1 1218.4 L1800.4 1218.7 L1801.6 1219.0 L1802.8 1219.3 L1804.1 1219.6 L1805.3 1219.9 L1806.5 1220.2 L1807.8 1220.4 L1809.0 1220.7 L1810.3 1221.0 L1811.5 1221.2 L1812.8 1221.5 L1814.0 1221.8 L1815.2 1222.0 L1816.5 1222.3 L1817.7 1222.5 L1819.0 1222.8 L1820.2 1223.0 L1821.5 1223.2 L1822.7 1223.5 L1824.0 1223.7 L1825.3 1223.9 L1826.5 1224.2 L1827.8 1224.4 L1829.0 1224.6 L1830.3 1224.8 L1831.5 1225.0 L1832.8 1225.2 L1834.1 1225.4 L1835.3 1225.6 L1836.6 1225.8 L1837.8 1226.0 L1839.1 1226.2 L1840.4 1226.4 L1841.6 1226.6 L1842.9 1226.8 L1844.2 1227.0 L1845.4 1227.2 L1846.7 1227.4 L1848.0 1227.6 L1849.2 1227.8 L1850.5 1227.9 L1851.8 1228.1 L1853.0 1228.3 L1854.3 1228.5 L1855.6 1228.6 L1856.8 1228.8 L1858.1 1229.0 L1859.4 1229.2 L1860.6 1229.3 L1861.9 1229.5 L1863.2 1229.7 L1864.4 1229.8 L1865.7 1230.0 L1867.0 1230.2 L1868.2 1230.3 L1869.5 1230.5 L1870.8 1230.6 L1872.0 1230.8 L1873.3 1231.0 L1874.6 1231.1 L1875.8 1231.3 L1877.1 1231.4 L1878.4 1231.6 L1879.6 1231.8 L1880.9 1231.9 L1882.2 1232.1 L1883.5 1232.2 L1884.7 1232.4 L1886.0 1232.5 L1887.3 1232.7 L1888.5 1232.8 L1889.8 1233.0 L1891.1 1233.1 L1892.3 1233.3 L1893.6 1233.4 L1894.9 1233.6 L1896.1 1233.7 L1897.4 1233.9 L1898.7 1234.0 L1899.9 1234.2 L1901.2 1234.3 L1902.5 1234.5 L1903.7 1234.6 L1905.0 1234.8 L1906.3 1234.9 L1907.5 1235.0 L1908.8 1235.2 L1910.0 1235.3 L1911.3 1235.5 L1912.6 1235.6 L1913.8 1235.7 L1915.1 1235.9 L1916.4 1236.0 L1917.6 1236.2 L1918.9 1236.3 L1920.2 1236.4 L1921.4 1236.6 L1922.7 1236.7 L1924.0 1236.8 L1925.2 1237.0 L1926.5 1237.1 L1927.8 1237.2 L1929.0 1237.3 L1930.3 1237.5 L1931.6 1237.6 L1932.8 1237.7 L1934.1 1237.9 L1935.4 1238.0 L1936.6 1238.1 L1937.9 1238.2 L1939.2 1238.4 L1940.4 1238.5 L1941.7 1238.6 L1943.0 1238.7 L1944.2 1238.9 L1945.5 1239.0 L1946.8 1239.1 L1948.0 1239.2 L1949.3 1239.3 L1950.6 1239.5 L1951.8 1239.6 L1953.1 1239.7 L1954.3 1239.8 L1955.6 1239.9 L1956.9 1240.0 L1958.1 1240.2 L1959.4 1240.3 L1960.7 1240.4 L1961.9 1240.5 L1963.2 1240.6 L1964.5 1240.7 L1965.7 1240.8 L1967.0 1240.9 L1968.3 1241.0 L1969.5 1241.2 L1970.8 1241.3 L1972.1 1241.4 L1973.3 1241.5 L1974.6 1241.6 L1975.9 1241.7 L1977.1 1241.8 L1978.4 1241.9 L1979.7 1242.0 L1980.9 1242.1 L1982.2 1242.2 L1983.5 1242.3 L1984.7 1242.4 L1986.0 1242.5 L1987.3 1242.6 L1988.5 1242.7 L1989.8 1242.8 L1991.1 1242.9 L1992.3 1243.0 L1993.6 1243.1 L1994.9 1243.2 L1996.1 1243.3 L1997.4 1243.4 L1998.7 1243.5 L2000.0 1243.6 L2001.2 1243.7 L2002.5 1243.7 L2003.8 1243.8 L2005.0 1243.9 L2006.3 1244.0 L2007.6 1244.1 L2008.8 1244.2 L2010.1 1244.3 L2011.4 1244.4 L2012.6 1244.5 L2013.9 1244.5 L2015.2 1244.6 L2016.4 1244.7 L2017.7 1244.8 L2019.0 1244.9 L2020.3 1245.0 L2021.5 1245.0 L2022.8 1245.1 L2024.1 1245.2 L2025.3 1245.3 L2026.6 1245.4 L2027.9 1245.4 L2029.1 1245.5 L2030.4 1245.6 L2031.7 1245.7 L2033.0 1245.8 L2034.2 1245.8 L2035.5 1245.9 L2036.8 1246.0 L2038.0 1246.1 L2039.3 1246.1 L2040.6 1246.2 L2041.8 1246.3 L2043.1 1246.4 L2044.4 1246.4 L2045.7 1246.5 L2046.9 1246.6 L2048.2 1246.6 L2049.5 1246.7 L2050.7 1246.8 L2052.0 1246.8 L2053.3 1246.9 L2054.6 1247.0 L2055.8 1247.0 L2057.1 1247.1 L2058.4 1247.2 L2059.6 1247.2 L2060.9 1247.3 L2062.2 1247.4 L2063.5 1247.4 L2064.7 1247.5 L2066.0 1247.6 L2067.3 1247.6 L2068.5 1247.7 L2069.8 1247.8 L2071.1 1247.8 L2072.4 1247.9 L2073.6 1247.9 L2074.9 1248.0 L2076.2 1248.1 L2077.4 1248.1 L2078.7 1248.2 L2080.0 1248.2 L2081.3 1248.3 L2082.5 1248.4 L2083.8 1248.4 L2085.1 1248.5 L2086.3 1248.5 L2087.6 1248.6 L2088.9 1248.6 L2090.2 1248.7 L2091.4 1248.8 L2092.7 1248.8 L2094.0 1248.9 L2095.3 1248.9 L2096.5 1249.0 L2097.8 1249.0 L2099.1 1249.1 L2100.3 1249.1 L2101.6 1249.2 L2102.9 1249.2 L2104.2 1249.3 L2105.4 1249.3 L2106.7 1249.4 L2108.0 1249.4 L2109.3 1249.5 L2110.5 1249.5 L2111.8 1249.6 L2113.1 1249.6 L2114.4 1249.7 L2115.6 1249.7 L2116.9 1249.8 L2118.2 1249.8 L2119.4 1249.9 L2120.7 1249.9 L2122.0 1250.0 L2123.3 1250.0 L2124.5 1250.1 L2125.8 1250.1 L2127.1 1250.2 L2128.4 1250.2 L2129.6 1250.2 L2130.9 1250.3 L2132.2 1250.3 L2133.4 1250.4 L2134.7 1250.4 L2136.0 1250.5 L2137.3 1250.5 L2138.5 1250.5 L2139.8 1250.6 L2141.1 1250.6 L2142.4 1250.7 L2143.6 1250.7 L2144.9 1250.8 L2146.2 1250.8 L2147.5 1250.8 L2148.7 1250.9 L2150.0 1250.9 L2151.3 1251.0 L2152.6 1251.0 L2153.8 1251.0 L2155.1 1251.1 L2156.4 1251.1 L2157.6 1251.2 L2158.9 1251.2 L2160.2 1251.2 L2161.5 1251.3 L2162.7 1251.3 L2164.0 1251.4 L2165.3 1251.4 L2166.6 1251.4 L2167.8 1251.5 L2169.1 1251.5 L2170.4 1251.5 L2171.7 1251.6 L2172.9 1251.6 L2174.2 1251.7 L2175.5 1251.7 L2176.7 1251.7 L2178.0 1251.8 L2179.3 1251.8 L2180.6 1251.8 L2181.8 1251.9 L2183.1 1251.9 L2184.4 1251.9 L2185.7 1252.0 L2186.9 1252.0 L2188.2 1252.1 L2189.5 1252.1 L2190.8 1252.1 L2192.0 1252.2 L2193.3 1252.2 L2194.6 1252.2 L2195.8 1252.3 L2197.1 1252.3 L2198.4 1252.3 L2199.7 1252.4 L2200.9 1252.4 L2202.2 1252.4 L2203.5 1252.5 L2204.8 1252.5 L2206.0 1252.5 L2207.3 1252.6 L2208.6 1252.6 L2209.9 1252.6 L2211.1 1252.7 L2212.4 1252.7 L2213.7 1252.7 L2214.9 1252.8 L2216.2 1252.8 L2217.5 1252.8 L2218.8 1252.9 L2220.0 1252.9 L2221.3 1252.9 L2222.6 1253.0 L2223.9 1253.0 L2225.1 1253.0 L2226.4 1253.1 L2227.7 1253.1 L2228.9 1253.1 L2230.2 1253.2 L2231.5 1253.2 L2232.8 1253.2 L2234.0 1253.3 L2235.3 1253.3 L2236.6 1253.3 L2237.8 1253.4 L2239.1 1253.4 L2240.4 1253.4 L2241.7 1253.5 L2242.9 1253.5 L2244.2 1253.5 L2245.5 1253.6 L2246.8 1253.6 L2248.0 1253.6 L2249.3 1253.7 L2250.6 1253.7 L2251.8 1253.7 L2253.1 1253.8 L2254.4 1253.8 L2255.7 1253.8 L2256.9 1253.9 L2258.2 1253.9 L2259.5 1253.9 L2260.7 1254.0 L2262.0 1254.0 L2263.3 1254.0 L2264.6 1254.1 L2265.8 1254.1 L2267.1 1254.1 L2268.4 1254.2 L2269.6 1254.2 L2270.9 1254.3 L2272.2 1254.3 L2273.4 1254.3 L2274.7 1254.4 L2276.0 1254.4 L2277.3 1254.4 L2278.5 1254.5 L2279.8 1254.5"/>
</g>
<text class="tl" x="1376.4" y="1375.9" text-anchor="end">0</text>
<text class="tl" x="1373.9" y="1065.4" text-anchor="end">0.05</text>
<text class="tl" x="1373.9" y="754.9" text-anchor="end">0.1</text>
<text class="tl" x="1394.3" y="1433.2" text-anchor="middle">0.05</text>
<text class="tl" x="1518.1" y="1433.2" text-anchor="middle">2</text>
<text class="tl" x="1645.2" y="1433.2" text-anchor="middle">4</text>
<text class="tl" x="1772.2" y="1433.2" text-anchor="middle">6</text>
<text class="tl" x="1899.2" y="1433.2" text-anchor="middle">8</text>
<text class="tl" x="2026.2" y="1433.2" text-anchor="middle">10</text>
<text class="tl" x="2153.3" y="1433.2" text-anchor="middle">12</text>
<text class="tl" x="2280.3" y="1433.2" text-anchor="middle">14</text>
<g clip-path="url(#cfig)"><g fill="#262626"><text transform="translate(1761.6 1515.5) scale(1.085 1)" font-size="83" font-style="italic">x</text><text transform="translate(1807.5 1533.5) scale(0.958 1)" font-size="118">/</text><text transform="translate(1840.4 1517.0) scale(1.063 1)" font-size="82" font-style="italic">ξ</text><text transform="translate(1875.7 1527.9) scale(1.180 1)" font-size="60" font-style="italic">n</text></g></g>
<g transform="translate(1219 1279.1) rotate(-90)" fill="#262626"><text transform="translate(-2.0 0.0)" font-size="80" font-style="italic">d</text><text transform="translate(50.0 0.0)" font-size="80" font-style="italic">χ</text><text transform="translate(91.4 0.0) scale(0.925 1)" font-size="88">(</text><text transform="translate(124.0 0.0)" font-size="83" font-style="italic">x</text><text transform="translate(168.1 0.0) scale(0.895 1)" font-size="72">,</text><text transform="translate(199.8 0.0) scale(0.950 1)" font-size="80">0</text><text transform="translate(240.2 0.0) scale(0.880 1)" font-size="88">)</text><text transform="translate(273.5 18.0) scale(0.933 1)" font-size="118">/</text><text transform="translate(306.9 0.0)" font-size="80" font-style="italic">d</text><text transform="translate(350.8 0.0)" font-size="83" font-style="italic">x</text><text transform="translate(395.8 18.0) scale(0.933 1)" font-size="118">/</text><text transform="translate(432.5 0.0)" font-size="80" font-style="italic">π</text></g>
<g fill="#000"><text transform="translate(1183.4 685.7) scale(1.071 1)" font-size="66.5">(</text><text transform="translate(1208.1 688.3)" font-size="72">c</text><text transform="translate(1240.8 685.7) scale(1.071 1)" font-size="66.5">)</text></g>
</g>
</svg></body></html>
